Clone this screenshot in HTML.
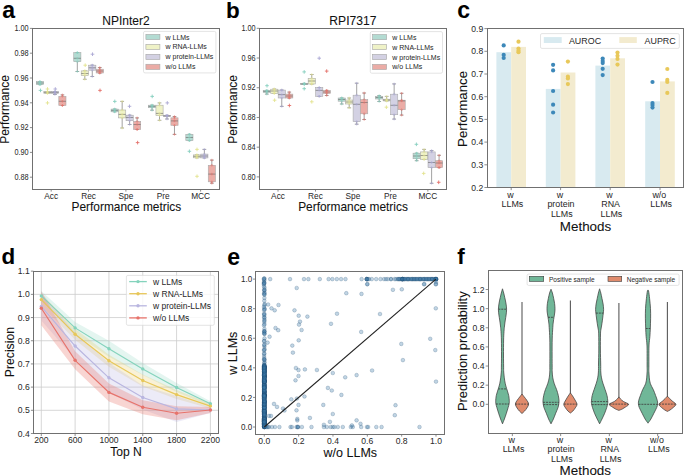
<!DOCTYPE html><html><head><meta charset="utf-8"><style>html,body{margin:0;padding:0;background:#fff;width:685px;height:476px;overflow:hidden}svg{display:block}text{font-family:"Liberation Sans",sans-serif;stroke:#111;stroke-width:0.15px;stroke-opacity:0.5}</style></head><body>
<svg width="685" height="476" viewBox="0 0 685 476">
<rect width="685" height="476" fill="#fff"/>
<text x="2.20" y="18.30" font-size="23" text-anchor="start" font-weight="bold" fill="#000">a</text>
<text x="226.00" y="18.40" font-size="22.4" text-anchor="start" font-weight="bold" fill="#000">b</text>
<text x="457.30" y="18.00" font-size="23" text-anchor="start" font-weight="bold" fill="#000">c</text>
<text x="1.40" y="263.70" font-size="22.4" text-anchor="start" font-weight="bold" fill="#000">d</text>
<text x="227.20" y="265.10" font-size="23" text-anchor="start" font-weight="bold" fill="#000">e</text>
<text x="457.30" y="264.30" font-size="22.4" text-anchor="start" font-weight="bold" fill="#000">f</text>
<text x="125.90" y="25.00" font-size="12.0" text-anchor="middle" font-weight="normal" fill="#111">NPInter2</text>
<line x1="39.96" y1="81.50" x2="39.96" y2="81.50" stroke="#8a8a8a" stroke-width="0.8"/>
<line x1="39.96" y1="84.60" x2="39.96" y2="84.60" stroke="#8a8a8a" stroke-width="0.8"/>
<line x1="38.06" y1="81.50" x2="41.86" y2="81.50" stroke="#8a8a8a" stroke-width="0.8"/>
<line x1="38.06" y1="84.60" x2="41.86" y2="84.60" stroke="#8a8a8a" stroke-width="0.8"/>
<rect x="36.37" y="81.50" width="7.18" height="3.10" fill="#b3dbd2" stroke="#ababab" stroke-width="0.6"/>
<line x1="36.37" y1="83.00" x2="43.55" y2="83.00" stroke="#767676" stroke-width="0.7"/>
<path d="M38.56 81.50H41.36M39.96 80.20V82.80" stroke="#86cfbf" stroke-width="0.75" opacity="0.75"/>
<path d="M38.56 81.50H41.36M39.96 80.20V82.80" stroke="#86cfbf" stroke-width="0.75" opacity="0.75"/>
<path d="M38.56 83.00H41.36M39.96 81.70V84.30" stroke="#86cfbf" stroke-width="0.75" opacity="0.75"/>
<path d="M38.56 84.60H41.36M39.96 83.30V85.90" stroke="#86cfbf" stroke-width="0.75" opacity="0.75"/>
<path d="M38.56 84.60H41.36M39.96 83.30V85.90" stroke="#86cfbf" stroke-width="0.75" opacity="0.75"/>
<path d="M38.70 90.40H42.30M40.50 88.60V92.20" stroke="#86cfbf" stroke-width="0.9"/>
<line x1="47.44" y1="91.50" x2="47.44" y2="91.50" stroke="#8a8a8a" stroke-width="0.8"/>
<line x1="47.44" y1="93.40" x2="47.44" y2="93.40" stroke="#8a8a8a" stroke-width="0.8"/>
<line x1="45.54" y1="91.50" x2="49.34" y2="91.50" stroke="#8a8a8a" stroke-width="0.8"/>
<line x1="45.54" y1="93.40" x2="49.34" y2="93.40" stroke="#8a8a8a" stroke-width="0.8"/>
<rect x="43.85" y="91.50" width="7.18" height="1.90" fill="#eff2c7" stroke="#ababab" stroke-width="0.6"/>
<line x1="43.85" y1="92.40" x2="51.03" y2="92.40" stroke="#767676" stroke-width="0.7"/>
<path d="M46.04 91.50H48.84M47.44 90.20V92.80" stroke="#e3e38f" stroke-width="0.75" opacity="0.75"/>
<path d="M46.04 91.50H48.84M47.44 90.20V92.80" stroke="#e3e38f" stroke-width="0.75" opacity="0.75"/>
<path d="M46.04 92.40H48.84M47.44 91.10V93.70" stroke="#e3e38f" stroke-width="0.75" opacity="0.75"/>
<path d="M46.04 93.40H48.84M47.44 92.10V94.70" stroke="#e3e38f" stroke-width="0.75" opacity="0.75"/>
<path d="M46.04 93.40H48.84M47.44 92.10V94.70" stroke="#e3e38f" stroke-width="0.75" opacity="0.75"/>
<path d="M45.70 89.00H49.30M47.50 87.20V90.80" stroke="#e3e38f" stroke-width="0.9"/>
<path d="M45.70 102.90H49.30M47.50 101.10V104.70" stroke="#e3e38f" stroke-width="0.9"/>
<line x1="54.92" y1="91.50" x2="54.92" y2="91.50" stroke="#8a8a8a" stroke-width="0.8"/>
<line x1="54.92" y1="93.40" x2="54.92" y2="94.50" stroke="#8a8a8a" stroke-width="0.8"/>
<line x1="53.02" y1="91.50" x2="56.82" y2="91.50" stroke="#8a8a8a" stroke-width="0.8"/>
<line x1="53.02" y1="94.50" x2="56.82" y2="94.50" stroke="#8a8a8a" stroke-width="0.8"/>
<rect x="51.33" y="91.50" width="7.18" height="1.90" fill="#d3d1e3" stroke="#ababab" stroke-width="0.6"/>
<line x1="51.33" y1="92.40" x2="58.51" y2="92.40" stroke="#767676" stroke-width="0.7"/>
<path d="M53.52 91.50H56.32M54.92 90.20V92.80" stroke="#aaa7d4" stroke-width="0.75" opacity="0.75"/>
<path d="M53.52 91.50H56.32M54.92 90.20V92.80" stroke="#aaa7d4" stroke-width="0.75" opacity="0.75"/>
<path d="M53.52 92.40H56.32M54.92 91.10V93.70" stroke="#aaa7d4" stroke-width="0.75" opacity="0.75"/>
<path d="M53.52 93.40H56.32M54.92 92.10V94.70" stroke="#aaa7d4" stroke-width="0.75" opacity="0.75"/>
<path d="M53.52 94.50H56.32M54.92 93.20V95.80" stroke="#aaa7d4" stroke-width="0.75" opacity="0.75"/>
<path d="M53.50 89.00H57.10M55.30 87.20V90.80" stroke="#aaa7d4" stroke-width="0.9"/>
<line x1="62.40" y1="94.90" x2="62.40" y2="96.30" stroke="#8a8a8a" stroke-width="0.8"/>
<line x1="62.40" y1="105.50" x2="62.40" y2="105.50" stroke="#8a8a8a" stroke-width="0.8"/>
<line x1="60.50" y1="94.90" x2="64.30" y2="94.90" stroke="#8a8a8a" stroke-width="0.8"/>
<line x1="60.50" y1="105.50" x2="64.30" y2="105.50" stroke="#8a8a8a" stroke-width="0.8"/>
<rect x="58.81" y="96.30" width="7.18" height="9.20" fill="#ebaca6" stroke="#ababab" stroke-width="0.6"/>
<line x1="58.81" y1="101.30" x2="65.99" y2="101.30" stroke="#767676" stroke-width="0.7"/>
<path d="M61.00 94.90H63.80M62.40 93.60V96.20" stroke="#e4716a" stroke-width="0.75" opacity="0.75"/>
<path d="M61.00 96.30H63.80M62.40 95.00V97.60" stroke="#e4716a" stroke-width="0.75" opacity="0.75"/>
<path d="M61.00 101.30H63.80M62.40 100.00V102.60" stroke="#e4716a" stroke-width="0.75" opacity="0.75"/>
<path d="M61.00 105.50H63.80M62.40 104.20V106.80" stroke="#e4716a" stroke-width="0.75" opacity="0.75"/>
<path d="M61.00 105.50H63.80M62.40 104.20V106.80" stroke="#e4716a" stroke-width="0.75" opacity="0.75"/>
<line x1="77.32" y1="52.60" x2="77.32" y2="52.60" stroke="#8a8a8a" stroke-width="0.8"/>
<line x1="77.32" y1="61.70" x2="77.32" y2="71.50" stroke="#8a8a8a" stroke-width="0.8"/>
<line x1="75.42" y1="52.60" x2="79.22" y2="52.60" stroke="#8a8a8a" stroke-width="0.8"/>
<line x1="75.42" y1="71.50" x2="79.22" y2="71.50" stroke="#8a8a8a" stroke-width="0.8"/>
<rect x="73.73" y="52.60" width="7.18" height="9.10" fill="#b3dbd2" stroke="#ababab" stroke-width="0.6"/>
<line x1="73.73" y1="58.30" x2="80.91" y2="58.30" stroke="#767676" stroke-width="0.7"/>
<path d="M75.92 52.60H78.72M77.32 51.30V53.90" stroke="#86cfbf" stroke-width="0.75" opacity="0.75"/>
<path d="M75.92 52.60H78.72M77.32 51.30V53.90" stroke="#86cfbf" stroke-width="0.75" opacity="0.75"/>
<path d="M75.92 58.30H78.72M77.32 57.00V59.60" stroke="#86cfbf" stroke-width="0.75" opacity="0.75"/>
<path d="M75.92 61.70H78.72M77.32 60.40V63.00" stroke="#86cfbf" stroke-width="0.75" opacity="0.75"/>
<path d="M75.92 71.50H78.72M77.32 70.20V72.80" stroke="#86cfbf" stroke-width="0.75" opacity="0.75"/>
<line x1="84.80" y1="70.90" x2="84.80" y2="70.90" stroke="#8a8a8a" stroke-width="0.8"/>
<line x1="84.80" y1="75.50" x2="84.80" y2="79.30" stroke="#8a8a8a" stroke-width="0.8"/>
<line x1="82.90" y1="70.90" x2="86.70" y2="70.90" stroke="#8a8a8a" stroke-width="0.8"/>
<line x1="82.90" y1="79.30" x2="86.70" y2="79.30" stroke="#8a8a8a" stroke-width="0.8"/>
<rect x="81.21" y="70.90" width="7.18" height="4.60" fill="#eff2c7" stroke="#ababab" stroke-width="0.6"/>
<line x1="81.21" y1="73.50" x2="88.39" y2="73.50" stroke="#767676" stroke-width="0.7"/>
<path d="M83.40 70.90H86.20M84.80 69.60V72.20" stroke="#e3e38f" stroke-width="0.75" opacity="0.75"/>
<path d="M83.40 70.90H86.20M84.80 69.60V72.20" stroke="#e3e38f" stroke-width="0.75" opacity="0.75"/>
<path d="M83.40 73.50H86.20M84.80 72.20V74.80" stroke="#e3e38f" stroke-width="0.75" opacity="0.75"/>
<path d="M83.40 75.50H86.20M84.80 74.20V76.80" stroke="#e3e38f" stroke-width="0.75" opacity="0.75"/>
<path d="M83.40 79.30H86.20M84.80 78.00V80.60" stroke="#e3e38f" stroke-width="0.75" opacity="0.75"/>
<path d="M83.40 65.20H87.00M85.20 63.40V67.00" stroke="#e3e38f" stroke-width="0.9"/>
<line x1="92.28" y1="65.20" x2="92.28" y2="65.20" stroke="#8a8a8a" stroke-width="0.8"/>
<line x1="92.28" y1="70.20" x2="92.28" y2="76.50" stroke="#8a8a8a" stroke-width="0.8"/>
<line x1="90.38" y1="65.20" x2="94.18" y2="65.20" stroke="#8a8a8a" stroke-width="0.8"/>
<line x1="90.38" y1="76.50" x2="94.18" y2="76.50" stroke="#8a8a8a" stroke-width="0.8"/>
<rect x="88.69" y="65.20" width="7.18" height="5.00" fill="#d3d1e3" stroke="#ababab" stroke-width="0.6"/>
<line x1="88.69" y1="67.80" x2="95.87" y2="67.80" stroke="#767676" stroke-width="0.7"/>
<path d="M90.88 65.20H93.68M92.28 63.90V66.50" stroke="#aaa7d4" stroke-width="0.75" opacity="0.75"/>
<path d="M90.88 65.20H93.68M92.28 63.90V66.50" stroke="#aaa7d4" stroke-width="0.75" opacity="0.75"/>
<path d="M90.88 67.80H93.68M92.28 66.50V69.10" stroke="#aaa7d4" stroke-width="0.75" opacity="0.75"/>
<path d="M90.88 70.20H93.68M92.28 68.90V71.50" stroke="#aaa7d4" stroke-width="0.75" opacity="0.75"/>
<path d="M90.88 76.50H93.68M92.28 75.20V77.80" stroke="#aaa7d4" stroke-width="0.75" opacity="0.75"/>
<path d="M90.70 54.20H94.30M92.50 52.40V56.00" stroke="#aaa7d4" stroke-width="0.9"/>
<line x1="99.76" y1="67.50" x2="99.76" y2="69.20" stroke="#8a8a8a" stroke-width="0.8"/>
<line x1="99.76" y1="73.00" x2="99.76" y2="73.00" stroke="#8a8a8a" stroke-width="0.8"/>
<line x1="97.86" y1="67.50" x2="101.66" y2="67.50" stroke="#8a8a8a" stroke-width="0.8"/>
<line x1="97.86" y1="73.00" x2="101.66" y2="73.00" stroke="#8a8a8a" stroke-width="0.8"/>
<rect x="96.17" y="69.20" width="7.18" height="3.80" fill="#ebaca6" stroke="#ababab" stroke-width="0.6"/>
<line x1="96.17" y1="71.00" x2="103.35" y2="71.00" stroke="#767676" stroke-width="0.7"/>
<path d="M98.36 67.50H101.16M99.76 66.20V68.80" stroke="#e4716a" stroke-width="0.75" opacity="0.75"/>
<path d="M98.36 69.20H101.16M99.76 67.90V70.50" stroke="#e4716a" stroke-width="0.75" opacity="0.75"/>
<path d="M98.36 71.00H101.16M99.76 69.70V72.30" stroke="#e4716a" stroke-width="0.75" opacity="0.75"/>
<path d="M98.36 73.00H101.16M99.76 71.70V74.30" stroke="#e4716a" stroke-width="0.75" opacity="0.75"/>
<path d="M98.36 73.00H101.16M99.76 71.70V74.30" stroke="#e4716a" stroke-width="0.75" opacity="0.75"/>
<path d="M98.20 90.40H101.80M100.00 88.60V92.20" stroke="#e4716a" stroke-width="0.9"/>
<line x1="114.68" y1="109.10" x2="114.68" y2="109.10" stroke="#8a8a8a" stroke-width="0.8"/>
<line x1="114.68" y1="111.80" x2="114.68" y2="111.80" stroke="#8a8a8a" stroke-width="0.8"/>
<line x1="112.78" y1="109.10" x2="116.58" y2="109.10" stroke="#8a8a8a" stroke-width="0.8"/>
<line x1="112.78" y1="111.80" x2="116.58" y2="111.80" stroke="#8a8a8a" stroke-width="0.8"/>
<rect x="111.09" y="109.10" width="7.18" height="2.70" fill="#b3dbd2" stroke="#ababab" stroke-width="0.6"/>
<line x1="111.09" y1="110.40" x2="118.27" y2="110.40" stroke="#767676" stroke-width="0.7"/>
<path d="M113.28 109.10H116.08M114.68 107.80V110.40" stroke="#86cfbf" stroke-width="0.75" opacity="0.75"/>
<path d="M113.28 109.10H116.08M114.68 107.80V110.40" stroke="#86cfbf" stroke-width="0.75" opacity="0.75"/>
<path d="M113.28 110.40H116.08M114.68 109.10V111.70" stroke="#86cfbf" stroke-width="0.75" opacity="0.75"/>
<path d="M113.28 111.80H116.08M114.68 110.50V113.10" stroke="#86cfbf" stroke-width="0.75" opacity="0.75"/>
<path d="M113.28 111.80H116.08M114.68 110.50V113.10" stroke="#86cfbf" stroke-width="0.75" opacity="0.75"/>
<path d="M113.00 101.40H116.60M114.80 99.60V103.20" stroke="#86cfbf" stroke-width="0.9"/>
<line x1="122.16" y1="101.40" x2="122.16" y2="110.00" stroke="#8a8a8a" stroke-width="0.8"/>
<line x1="122.16" y1="117.90" x2="122.16" y2="128.00" stroke="#8a8a8a" stroke-width="0.8"/>
<line x1="120.26" y1="101.40" x2="124.06" y2="101.40" stroke="#8a8a8a" stroke-width="0.8"/>
<line x1="120.26" y1="128.00" x2="124.06" y2="128.00" stroke="#8a8a8a" stroke-width="0.8"/>
<rect x="118.57" y="110.00" width="7.18" height="7.90" fill="#eff2c7" stroke="#ababab" stroke-width="0.6"/>
<line x1="118.57" y1="114.40" x2="125.75" y2="114.40" stroke="#767676" stroke-width="0.7"/>
<path d="M120.76 101.40H123.56M122.16 100.10V102.70" stroke="#e3e38f" stroke-width="0.75" opacity="0.75"/>
<path d="M120.76 110.00H123.56M122.16 108.70V111.30" stroke="#e3e38f" stroke-width="0.75" opacity="0.75"/>
<path d="M120.76 114.40H123.56M122.16 113.10V115.70" stroke="#e3e38f" stroke-width="0.75" opacity="0.75"/>
<path d="M120.76 117.90H123.56M122.16 116.60V119.20" stroke="#e3e38f" stroke-width="0.75" opacity="0.75"/>
<path d="M120.76 128.00H123.56M122.16 126.70V129.30" stroke="#e3e38f" stroke-width="0.75" opacity="0.75"/>
<line x1="129.64" y1="115.20" x2="129.64" y2="115.20" stroke="#8a8a8a" stroke-width="0.8"/>
<line x1="129.64" y1="120.70" x2="129.64" y2="124.50" stroke="#8a8a8a" stroke-width="0.8"/>
<line x1="127.74" y1="115.20" x2="131.54" y2="115.20" stroke="#8a8a8a" stroke-width="0.8"/>
<line x1="127.74" y1="124.50" x2="131.54" y2="124.50" stroke="#8a8a8a" stroke-width="0.8"/>
<rect x="126.05" y="115.20" width="7.18" height="5.50" fill="#d3d1e3" stroke="#ababab" stroke-width="0.6"/>
<line x1="126.05" y1="117.50" x2="133.23" y2="117.50" stroke="#767676" stroke-width="0.7"/>
<path d="M128.24 115.20H131.04M129.64 113.90V116.50" stroke="#aaa7d4" stroke-width="0.75" opacity="0.75"/>
<path d="M128.24 115.20H131.04M129.64 113.90V116.50" stroke="#aaa7d4" stroke-width="0.75" opacity="0.75"/>
<path d="M128.24 117.50H131.04M129.64 116.20V118.80" stroke="#aaa7d4" stroke-width="0.75" opacity="0.75"/>
<path d="M128.24 120.70H131.04M129.64 119.40V122.00" stroke="#aaa7d4" stroke-width="0.75" opacity="0.75"/>
<path d="M128.24 124.50H131.04M129.64 123.20V125.80" stroke="#aaa7d4" stroke-width="0.75" opacity="0.75"/>
<path d="M127.70 106.30H131.30M129.50 104.50V108.10" stroke="#aaa7d4" stroke-width="0.9"/>
<line x1="137.12" y1="117.90" x2="137.12" y2="121.40" stroke="#8a8a8a" stroke-width="0.8"/>
<line x1="137.12" y1="129.50" x2="137.12" y2="129.50" stroke="#8a8a8a" stroke-width="0.8"/>
<line x1="135.22" y1="117.90" x2="139.02" y2="117.90" stroke="#8a8a8a" stroke-width="0.8"/>
<line x1="135.22" y1="129.50" x2="139.02" y2="129.50" stroke="#8a8a8a" stroke-width="0.8"/>
<rect x="133.53" y="121.40" width="7.18" height="8.10" fill="#ebaca6" stroke="#ababab" stroke-width="0.6"/>
<line x1="133.53" y1="124.50" x2="140.71" y2="124.50" stroke="#767676" stroke-width="0.7"/>
<path d="M135.72 117.90H138.52M137.12 116.60V119.20" stroke="#e4716a" stroke-width="0.75" opacity="0.75"/>
<path d="M135.72 121.40H138.52M137.12 120.10V122.70" stroke="#e4716a" stroke-width="0.75" opacity="0.75"/>
<path d="M135.72 124.50H138.52M137.12 123.20V125.80" stroke="#e4716a" stroke-width="0.75" opacity="0.75"/>
<path d="M135.72 129.50H138.52M137.12 128.20V130.80" stroke="#e4716a" stroke-width="0.75" opacity="0.75"/>
<path d="M135.72 129.50H138.52M137.12 128.20V130.80" stroke="#e4716a" stroke-width="0.75" opacity="0.75"/>
<path d="M135.80 142.60H139.40M137.60 140.80V144.40" stroke="#e4716a" stroke-width="0.9"/>
<line x1="152.04" y1="105.20" x2="152.04" y2="105.20" stroke="#8a8a8a" stroke-width="0.8"/>
<line x1="152.04" y1="107.70" x2="152.04" y2="110.20" stroke="#8a8a8a" stroke-width="0.8"/>
<line x1="150.14" y1="105.20" x2="153.94" y2="105.20" stroke="#8a8a8a" stroke-width="0.8"/>
<line x1="150.14" y1="110.20" x2="153.94" y2="110.20" stroke="#8a8a8a" stroke-width="0.8"/>
<rect x="148.45" y="105.20" width="7.18" height="2.50" fill="#b3dbd2" stroke="#ababab" stroke-width="0.6"/>
<line x1="148.45" y1="106.40" x2="155.63" y2="106.40" stroke="#767676" stroke-width="0.7"/>
<path d="M150.64 105.20H153.44M152.04 103.90V106.50" stroke="#86cfbf" stroke-width="0.75" opacity="0.75"/>
<path d="M150.64 105.20H153.44M152.04 103.90V106.50" stroke="#86cfbf" stroke-width="0.75" opacity="0.75"/>
<path d="M150.64 106.40H153.44M152.04 105.10V107.70" stroke="#86cfbf" stroke-width="0.75" opacity="0.75"/>
<path d="M150.64 107.70H153.44M152.04 106.40V109.00" stroke="#86cfbf" stroke-width="0.75" opacity="0.75"/>
<path d="M150.64 110.20H153.44M152.04 108.90V111.50" stroke="#86cfbf" stroke-width="0.75" opacity="0.75"/>
<path d="M150.40 96.40H154.00M152.20 94.60V98.20" stroke="#86cfbf" stroke-width="0.9"/>
<line x1="159.52" y1="102.90" x2="159.52" y2="105.20" stroke="#8a8a8a" stroke-width="0.8"/>
<line x1="159.52" y1="115.50" x2="159.52" y2="120.30" stroke="#8a8a8a" stroke-width="0.8"/>
<line x1="157.62" y1="102.90" x2="161.42" y2="102.90" stroke="#8a8a8a" stroke-width="0.8"/>
<line x1="157.62" y1="120.30" x2="161.42" y2="120.30" stroke="#8a8a8a" stroke-width="0.8"/>
<rect x="155.93" y="105.20" width="7.18" height="10.30" fill="#eff2c7" stroke="#ababab" stroke-width="0.6"/>
<line x1="155.93" y1="113.40" x2="163.11" y2="113.40" stroke="#767676" stroke-width="0.7"/>
<path d="M158.12 102.90H160.92M159.52 101.60V104.20" stroke="#e3e38f" stroke-width="0.75" opacity="0.75"/>
<path d="M158.12 105.20H160.92M159.52 103.90V106.50" stroke="#e3e38f" stroke-width="0.75" opacity="0.75"/>
<path d="M158.12 113.40H160.92M159.52 112.10V114.70" stroke="#e3e38f" stroke-width="0.75" opacity="0.75"/>
<path d="M158.12 115.50H160.92M159.52 114.20V116.80" stroke="#e3e38f" stroke-width="0.75" opacity="0.75"/>
<path d="M158.12 120.30H160.92M159.52 119.00V121.60" stroke="#e3e38f" stroke-width="0.75" opacity="0.75"/>
<line x1="167.00" y1="115.30" x2="167.00" y2="115.30" stroke="#8a8a8a" stroke-width="0.8"/>
<line x1="167.00" y1="116.50" x2="167.00" y2="119.00" stroke="#8a8a8a" stroke-width="0.8"/>
<line x1="165.10" y1="115.30" x2="168.90" y2="115.30" stroke="#8a8a8a" stroke-width="0.8"/>
<line x1="165.10" y1="119.00" x2="168.90" y2="119.00" stroke="#8a8a8a" stroke-width="0.8"/>
<rect x="163.41" y="115.30" width="7.18" height="1.20" fill="#d3d1e3" stroke="#ababab" stroke-width="0.6"/>
<line x1="163.41" y1="115.90" x2="170.59" y2="115.90" stroke="#767676" stroke-width="0.7"/>
<path d="M165.60 115.30H168.40M167.00 114.00V116.60" stroke="#aaa7d4" stroke-width="0.75" opacity="0.75"/>
<path d="M165.60 115.30H168.40M167.00 114.00V116.60" stroke="#aaa7d4" stroke-width="0.75" opacity="0.75"/>
<path d="M165.60 115.90H168.40M167.00 114.60V117.20" stroke="#aaa7d4" stroke-width="0.75" opacity="0.75"/>
<path d="M165.60 116.50H168.40M167.00 115.20V117.80" stroke="#aaa7d4" stroke-width="0.75" opacity="0.75"/>
<path d="M165.60 119.00H168.40M167.00 117.70V120.30" stroke="#aaa7d4" stroke-width="0.75" opacity="0.75"/>
<path d="M165.50 102.90H169.10M167.30 101.10V104.70" stroke="#aaa7d4" stroke-width="0.9"/>
<line x1="174.48" y1="116.50" x2="174.48" y2="117.80" stroke="#8a8a8a" stroke-width="0.8"/>
<line x1="174.48" y1="125.30" x2="174.48" y2="134.40" stroke="#8a8a8a" stroke-width="0.8"/>
<line x1="172.58" y1="116.50" x2="176.38" y2="116.50" stroke="#8a8a8a" stroke-width="0.8"/>
<line x1="172.58" y1="134.40" x2="176.38" y2="134.40" stroke="#8a8a8a" stroke-width="0.8"/>
<rect x="170.89" y="117.80" width="7.18" height="7.50" fill="#ebaca6" stroke="#ababab" stroke-width="0.6"/>
<line x1="170.89" y1="120.90" x2="178.07" y2="120.90" stroke="#767676" stroke-width="0.7"/>
<path d="M173.08 116.50H175.88M174.48 115.20V117.80" stroke="#e4716a" stroke-width="0.75" opacity="0.75"/>
<path d="M173.08 117.80H175.88M174.48 116.50V119.10" stroke="#e4716a" stroke-width="0.75" opacity="0.75"/>
<path d="M173.08 120.90H175.88M174.48 119.60V122.20" stroke="#e4716a" stroke-width="0.75" opacity="0.75"/>
<path d="M173.08 125.30H175.88M174.48 124.00V126.60" stroke="#e4716a" stroke-width="0.75" opacity="0.75"/>
<path d="M173.08 134.40H175.88M174.48 133.10V135.70" stroke="#e4716a" stroke-width="0.75" opacity="0.75"/>
<line x1="189.40" y1="134.30" x2="189.40" y2="134.30" stroke="#8a8a8a" stroke-width="0.8"/>
<line x1="189.40" y1="140.60" x2="189.40" y2="140.60" stroke="#8a8a8a" stroke-width="0.8"/>
<line x1="187.50" y1="134.30" x2="191.30" y2="134.30" stroke="#8a8a8a" stroke-width="0.8"/>
<line x1="187.50" y1="140.60" x2="191.30" y2="140.60" stroke="#8a8a8a" stroke-width="0.8"/>
<rect x="185.81" y="134.30" width="7.18" height="6.30" fill="#b3dbd2" stroke="#ababab" stroke-width="0.6"/>
<line x1="185.81" y1="137.50" x2="192.99" y2="137.50" stroke="#767676" stroke-width="0.7"/>
<path d="M188.00 134.30H190.80M189.40 133.00V135.60" stroke="#86cfbf" stroke-width="0.75" opacity="0.75"/>
<path d="M188.00 134.30H190.80M189.40 133.00V135.60" stroke="#86cfbf" stroke-width="0.75" opacity="0.75"/>
<path d="M188.00 137.50H190.80M189.40 136.20V138.80" stroke="#86cfbf" stroke-width="0.75" opacity="0.75"/>
<path d="M188.00 140.60H190.80M189.40 139.30V141.90" stroke="#86cfbf" stroke-width="0.75" opacity="0.75"/>
<path d="M188.00 140.60H190.80M189.40 139.30V141.90" stroke="#86cfbf" stroke-width="0.75" opacity="0.75"/>
<path d="M187.60 151.30H191.20M189.40 149.50V153.10" stroke="#86cfbf" stroke-width="0.9"/>
<line x1="196.88" y1="154.90" x2="196.88" y2="154.90" stroke="#8a8a8a" stroke-width="0.8"/>
<line x1="196.88" y1="157.80" x2="196.88" y2="157.80" stroke="#8a8a8a" stroke-width="0.8"/>
<line x1="194.98" y1="154.90" x2="198.78" y2="154.90" stroke="#8a8a8a" stroke-width="0.8"/>
<line x1="194.98" y1="157.80" x2="198.78" y2="157.80" stroke="#8a8a8a" stroke-width="0.8"/>
<rect x="193.29" y="154.90" width="7.18" height="2.90" fill="#eff2c7" stroke="#ababab" stroke-width="0.6"/>
<line x1="193.29" y1="156.30" x2="200.47" y2="156.30" stroke="#767676" stroke-width="0.7"/>
<path d="M195.48 154.90H198.28M196.88 153.60V156.20" stroke="#e3e38f" stroke-width="0.75" opacity="0.75"/>
<path d="M195.48 154.90H198.28M196.88 153.60V156.20" stroke="#e3e38f" stroke-width="0.75" opacity="0.75"/>
<path d="M195.48 156.30H198.28M196.88 155.00V157.60" stroke="#e3e38f" stroke-width="0.75" opacity="0.75"/>
<path d="M195.48 157.80H198.28M196.88 156.50V159.10" stroke="#e3e38f" stroke-width="0.75" opacity="0.75"/>
<path d="M195.48 157.80H198.28M196.88 156.50V159.10" stroke="#e3e38f" stroke-width="0.75" opacity="0.75"/>
<path d="M195.20 149.40H198.80M197.00 147.60V151.20" stroke="#e3e38f" stroke-width="0.9"/>
<path d="M195.20 176.30H198.80M197.00 174.50V178.10" stroke="#e3e38f" stroke-width="0.9"/>
<line x1="204.36" y1="149.40" x2="204.36" y2="154.10" stroke="#8a8a8a" stroke-width="0.8"/>
<line x1="204.36" y1="157.90" x2="204.36" y2="157.90" stroke="#8a8a8a" stroke-width="0.8"/>
<line x1="202.46" y1="149.40" x2="206.26" y2="149.40" stroke="#8a8a8a" stroke-width="0.8"/>
<line x1="202.46" y1="157.90" x2="206.26" y2="157.90" stroke="#8a8a8a" stroke-width="0.8"/>
<rect x="200.77" y="154.10" width="7.18" height="3.80" fill="#d3d1e3" stroke="#ababab" stroke-width="0.6"/>
<line x1="200.77" y1="156.00" x2="207.95" y2="156.00" stroke="#767676" stroke-width="0.7"/>
<path d="M202.96 149.40H205.76M204.36 148.10V150.70" stroke="#aaa7d4" stroke-width="0.75" opacity="0.75"/>
<path d="M202.96 154.10H205.76M204.36 152.80V155.40" stroke="#aaa7d4" stroke-width="0.75" opacity="0.75"/>
<path d="M202.96 156.00H205.76M204.36 154.70V157.30" stroke="#aaa7d4" stroke-width="0.75" opacity="0.75"/>
<path d="M202.96 157.90H205.76M204.36 156.60V159.20" stroke="#aaa7d4" stroke-width="0.75" opacity="0.75"/>
<path d="M202.96 157.90H205.76M204.36 156.60V159.20" stroke="#aaa7d4" stroke-width="0.75" opacity="0.75"/>
<line x1="211.84" y1="160.10" x2="211.84" y2="165.30" stroke="#8a8a8a" stroke-width="0.8"/>
<line x1="211.84" y1="181.80" x2="211.84" y2="183.20" stroke="#8a8a8a" stroke-width="0.8"/>
<line x1="209.94" y1="160.10" x2="213.74" y2="160.10" stroke="#8a8a8a" stroke-width="0.8"/>
<line x1="209.94" y1="183.20" x2="213.74" y2="183.20" stroke="#8a8a8a" stroke-width="0.8"/>
<rect x="208.25" y="165.30" width="7.18" height="16.50" fill="#ebaca6" stroke="#ababab" stroke-width="0.6"/>
<line x1="208.25" y1="174.10" x2="215.43" y2="174.10" stroke="#767676" stroke-width="0.7"/>
<path d="M210.44 160.10H213.24M211.84 158.80V161.40" stroke="#e4716a" stroke-width="0.75" opacity="0.75"/>
<path d="M210.44 165.30H213.24M211.84 164.00V166.60" stroke="#e4716a" stroke-width="0.75" opacity="0.75"/>
<path d="M210.44 174.10H213.24M211.84 172.80V175.40" stroke="#e4716a" stroke-width="0.75" opacity="0.75"/>
<path d="M210.44 181.80H213.24M211.84 180.50V183.10" stroke="#e4716a" stroke-width="0.75" opacity="0.75"/>
<path d="M210.44 183.20H213.24M211.84 181.90V184.50" stroke="#e4716a" stroke-width="0.75" opacity="0.75"/>
<rect x="32.50" y="28.50" width="187.00" height="161.00" fill="none" stroke="#707070" stroke-width="1.0"/>
<line x1="29.90" y1="28.40" x2="32.50" y2="28.40" stroke="#707070" stroke-width="0.8"/>
<text x="28.60" y="31.20" font-size="8.3" text-anchor="end" font-weight="normal" fill="#2b2b2b" transform="translate(28.60 0) scale(0.88 1) translate(-28.60 0)" style="stroke-width:0.06px">1.00</text>
<line x1="29.90" y1="53.20" x2="32.50" y2="53.20" stroke="#707070" stroke-width="0.8"/>
<text x="28.60" y="56.00" font-size="8.3" text-anchor="end" font-weight="normal" fill="#2b2b2b" transform="translate(28.60 0) scale(0.88 1) translate(-28.60 0)" style="stroke-width:0.06px">0.98</text>
<line x1="29.90" y1="78.00" x2="32.50" y2="78.00" stroke="#707070" stroke-width="0.8"/>
<text x="28.60" y="80.80" font-size="8.3" text-anchor="end" font-weight="normal" fill="#2b2b2b" transform="translate(28.60 0) scale(0.88 1) translate(-28.60 0)" style="stroke-width:0.06px">0.96</text>
<line x1="29.90" y1="102.80" x2="32.50" y2="102.80" stroke="#707070" stroke-width="0.8"/>
<text x="28.60" y="105.60" font-size="8.3" text-anchor="end" font-weight="normal" fill="#2b2b2b" transform="translate(28.60 0) scale(0.88 1) translate(-28.60 0)" style="stroke-width:0.06px">0.94</text>
<line x1="29.90" y1="127.60" x2="32.50" y2="127.60" stroke="#707070" stroke-width="0.8"/>
<text x="28.60" y="130.40" font-size="8.3" text-anchor="end" font-weight="normal" fill="#2b2b2b" transform="translate(28.60 0) scale(0.88 1) translate(-28.60 0)" style="stroke-width:0.06px">0.92</text>
<line x1="29.90" y1="152.40" x2="32.50" y2="152.40" stroke="#707070" stroke-width="0.8"/>
<text x="28.60" y="155.20" font-size="8.3" text-anchor="end" font-weight="normal" fill="#2b2b2b" transform="translate(28.60 0) scale(0.88 1) translate(-28.60 0)" style="stroke-width:0.06px">0.90</text>
<line x1="29.90" y1="177.20" x2="32.50" y2="177.20" stroke="#707070" stroke-width="0.8"/>
<text x="28.60" y="180.00" font-size="8.3" text-anchor="end" font-weight="normal" fill="#2b2b2b" transform="translate(28.60 0) scale(0.88 1) translate(-28.60 0)" style="stroke-width:0.06px">0.88</text>
<line x1="51.18" y1="189.00" x2="51.18" y2="191.60" stroke="#707070" stroke-width="0.8"/>
<text x="51.18" y="198.90" font-size="8.3" text-anchor="middle" font-weight="normal" fill="#2b2b2b" style="stroke-width:0.06px">Acc</text>
<line x1="88.54" y1="189.00" x2="88.54" y2="191.60" stroke="#707070" stroke-width="0.8"/>
<text x="88.54" y="198.90" font-size="8.3" text-anchor="middle" font-weight="normal" fill="#2b2b2b" style="stroke-width:0.06px">Rec</text>
<line x1="125.90" y1="189.00" x2="125.90" y2="191.60" stroke="#707070" stroke-width="0.8"/>
<text x="125.90" y="198.90" font-size="8.3" text-anchor="middle" font-weight="normal" fill="#2b2b2b" style="stroke-width:0.06px">Spe</text>
<line x1="163.26" y1="189.00" x2="163.26" y2="191.60" stroke="#707070" stroke-width="0.8"/>
<text x="163.26" y="198.90" font-size="8.3" text-anchor="middle" font-weight="normal" fill="#2b2b2b" style="stroke-width:0.06px">Pre</text>
<line x1="200.62" y1="189.00" x2="200.62" y2="191.60" stroke="#707070" stroke-width="0.8"/>
<text x="200.62" y="198.90" font-size="8.3" text-anchor="middle" font-weight="normal" fill="#2b2b2b" style="stroke-width:0.06px">MCC</text>
<text x="126.40" y="210.60" font-size="11.9" text-anchor="middle" font-weight="normal" fill="#111">Performance metrics</text>
<text x="9.50" y="109.40" font-size="12.0" text-anchor="middle" font-weight="normal" fill="#111" transform="rotate(-90 9.50 109.40)">Performance</text>
<rect x="143.50" y="31.40" width="72.40" height="41.50" rx="1.5" fill="#fff" fill-opacity="0.8" stroke="#d8d8d8" stroke-width="0.7"/>
<rect x="145.90" y="34.40" width="14" height="5.2" fill="#b3dbd2" stroke="#a6a6a6" stroke-width="0.6"/>
<text x="165.50" y="39.50" font-size="7.0" text-anchor="start" font-weight="normal" fill="#2b2b2b" style="stroke-width:0.06px">w LLMs</text>
<rect x="145.90" y="44.35" width="14" height="5.2" fill="#eff2c7" stroke="#a6a6a6" stroke-width="0.6"/>
<text x="165.50" y="49.45" font-size="7.0" text-anchor="start" font-weight="normal" fill="#2b2b2b" style="stroke-width:0.06px">w RNA-LLMs</text>
<rect x="145.90" y="54.30" width="14" height="5.2" fill="#d3d1e3" stroke="#a6a6a6" stroke-width="0.6"/>
<text x="165.50" y="59.40" font-size="7.0" text-anchor="start" font-weight="normal" fill="#2b2b2b" style="stroke-width:0.06px">w protein-LLMs</text>
<rect x="145.90" y="64.25" width="14" height="5.2" fill="#ebaca6" stroke="#a6a6a6" stroke-width="0.6"/>
<text x="165.50" y="69.35" font-size="7.0" text-anchor="start" font-weight="normal" fill="#2b2b2b" style="stroke-width:0.06px">w/o LLMs</text>
<text x="352.90" y="25.00" font-size="12.1" text-anchor="middle" font-weight="normal" fill="#111">RPI7317</text>
<line x1="266.81" y1="90.40" x2="266.81" y2="90.40" stroke="#8a8a8a" stroke-width="0.8"/>
<line x1="266.81" y1="92.40" x2="266.81" y2="94.10" stroke="#8a8a8a" stroke-width="0.8"/>
<line x1="264.91" y1="90.40" x2="268.71" y2="90.40" stroke="#8a8a8a" stroke-width="0.8"/>
<line x1="264.91" y1="94.10" x2="268.71" y2="94.10" stroke="#8a8a8a" stroke-width="0.8"/>
<rect x="263.22" y="90.40" width="7.18" height="2.00" fill="#b3dbd2" stroke="#ababab" stroke-width="0.6"/>
<line x1="263.22" y1="91.40" x2="270.40" y2="91.40" stroke="#767676" stroke-width="0.7"/>
<path d="M265.41 90.40H268.21M266.81 89.10V91.70" stroke="#86cfbf" stroke-width="0.75" opacity="0.75"/>
<path d="M265.41 90.40H268.21M266.81 89.10V91.70" stroke="#86cfbf" stroke-width="0.75" opacity="0.75"/>
<path d="M265.41 91.40H268.21M266.81 90.10V92.70" stroke="#86cfbf" stroke-width="0.75" opacity="0.75"/>
<path d="M265.41 92.40H268.21M266.81 91.10V93.70" stroke="#86cfbf" stroke-width="0.75" opacity="0.75"/>
<path d="M265.41 94.10H268.21M266.81 92.80V95.40" stroke="#86cfbf" stroke-width="0.75" opacity="0.75"/>
<path d="M265.20 85.70H268.80M267.00 83.90V87.50" stroke="#86cfbf" stroke-width="0.9"/>
<line x1="274.29" y1="89.00" x2="274.29" y2="89.20" stroke="#8a8a8a" stroke-width="0.8"/>
<line x1="274.29" y1="93.40" x2="274.29" y2="93.40" stroke="#8a8a8a" stroke-width="0.8"/>
<line x1="272.39" y1="89.00" x2="276.19" y2="89.00" stroke="#8a8a8a" stroke-width="0.8"/>
<line x1="272.39" y1="93.40" x2="276.19" y2="93.40" stroke="#8a8a8a" stroke-width="0.8"/>
<rect x="270.70" y="89.20" width="7.18" height="4.20" fill="#eff2c7" stroke="#ababab" stroke-width="0.6"/>
<line x1="270.70" y1="91.00" x2="277.88" y2="91.00" stroke="#767676" stroke-width="0.7"/>
<path d="M272.89 89.00H275.69M274.29 87.70V90.30" stroke="#e3e38f" stroke-width="0.75" opacity="0.75"/>
<path d="M272.89 89.20H275.69M274.29 87.90V90.50" stroke="#e3e38f" stroke-width="0.75" opacity="0.75"/>
<path d="M272.89 91.00H275.69M274.29 89.70V92.30" stroke="#e3e38f" stroke-width="0.75" opacity="0.75"/>
<path d="M272.89 93.40H275.69M274.29 92.10V94.70" stroke="#e3e38f" stroke-width="0.75" opacity="0.75"/>
<path d="M272.89 93.40H275.69M274.29 92.10V94.70" stroke="#e3e38f" stroke-width="0.75" opacity="0.75"/>
<path d="M272.80 100.20H276.40M274.60 98.40V102.00" stroke="#e3e38f" stroke-width="0.9"/>
<line x1="281.77" y1="90.10" x2="281.77" y2="90.10" stroke="#8a8a8a" stroke-width="0.8"/>
<line x1="281.77" y1="98.00" x2="281.77" y2="106.40" stroke="#8a8a8a" stroke-width="0.8"/>
<line x1="279.87" y1="90.10" x2="283.67" y2="90.10" stroke="#8a8a8a" stroke-width="0.8"/>
<line x1="279.87" y1="106.40" x2="283.67" y2="106.40" stroke="#8a8a8a" stroke-width="0.8"/>
<rect x="278.18" y="90.10" width="7.18" height="7.90" fill="#d3d1e3" stroke="#ababab" stroke-width="0.6"/>
<line x1="278.18" y1="94.60" x2="285.36" y2="94.60" stroke="#767676" stroke-width="0.7"/>
<path d="M280.37 90.10H283.17M281.77 88.80V91.40" stroke="#aaa7d4" stroke-width="0.75" opacity="0.75"/>
<path d="M280.37 90.10H283.17M281.77 88.80V91.40" stroke="#aaa7d4" stroke-width="0.75" opacity="0.75"/>
<path d="M280.37 94.60H283.17M281.77 93.30V95.90" stroke="#aaa7d4" stroke-width="0.75" opacity="0.75"/>
<path d="M280.37 98.00H283.17M281.77 96.70V99.30" stroke="#aaa7d4" stroke-width="0.75" opacity="0.75"/>
<path d="M280.37 106.40H283.17M281.77 105.10V107.70" stroke="#aaa7d4" stroke-width="0.75" opacity="0.75"/>
<line x1="289.25" y1="92.10" x2="289.25" y2="94.10" stroke="#8a8a8a" stroke-width="0.8"/>
<line x1="289.25" y1="98.00" x2="289.25" y2="98.00" stroke="#8a8a8a" stroke-width="0.8"/>
<line x1="287.35" y1="92.10" x2="291.15" y2="92.10" stroke="#8a8a8a" stroke-width="0.8"/>
<line x1="287.35" y1="98.00" x2="291.15" y2="98.00" stroke="#8a8a8a" stroke-width="0.8"/>
<rect x="285.66" y="94.10" width="7.18" height="3.90" fill="#ebaca6" stroke="#ababab" stroke-width="0.6"/>
<line x1="285.66" y1="96.00" x2="292.84" y2="96.00" stroke="#767676" stroke-width="0.7"/>
<path d="M287.85 92.10H290.65M289.25 90.80V93.40" stroke="#e4716a" stroke-width="0.75" opacity="0.75"/>
<path d="M287.85 94.10H290.65M289.25 92.80V95.40" stroke="#e4716a" stroke-width="0.75" opacity="0.75"/>
<path d="M287.85 96.00H290.65M289.25 94.70V97.30" stroke="#e4716a" stroke-width="0.75" opacity="0.75"/>
<path d="M287.85 98.00H290.65M289.25 96.70V99.30" stroke="#e4716a" stroke-width="0.75" opacity="0.75"/>
<path d="M287.85 98.00H290.65M289.25 96.70V99.30" stroke="#e4716a" stroke-width="0.75" opacity="0.75"/>
<path d="M287.60 105.50H291.20M289.40 103.70V107.30" stroke="#e4716a" stroke-width="0.9"/>
<line x1="304.27" y1="83.40" x2="304.27" y2="83.40" stroke="#8a8a8a" stroke-width="0.8"/>
<line x1="304.27" y1="84.50" x2="304.27" y2="84.50" stroke="#8a8a8a" stroke-width="0.8"/>
<line x1="302.37" y1="83.40" x2="306.17" y2="83.40" stroke="#8a8a8a" stroke-width="0.8"/>
<line x1="302.37" y1="84.50" x2="306.17" y2="84.50" stroke="#8a8a8a" stroke-width="0.8"/>
<rect x="300.68" y="83.40" width="7.18" height="1.10" fill="#b3dbd2" stroke="#ababab" stroke-width="0.6"/>
<line x1="300.68" y1="84.00" x2="307.86" y2="84.00" stroke="#767676" stroke-width="0.7"/>
<path d="M302.87 83.40H305.67M304.27 82.10V84.70" stroke="#86cfbf" stroke-width="0.75" opacity="0.75"/>
<path d="M302.87 83.40H305.67M304.27 82.10V84.70" stroke="#86cfbf" stroke-width="0.75" opacity="0.75"/>
<path d="M302.87 84.00H305.67M304.27 82.70V85.30" stroke="#86cfbf" stroke-width="0.75" opacity="0.75"/>
<path d="M302.87 84.50H305.67M304.27 83.20V85.80" stroke="#86cfbf" stroke-width="0.75" opacity="0.75"/>
<path d="M302.87 84.50H305.67M304.27 83.20V85.80" stroke="#86cfbf" stroke-width="0.75" opacity="0.75"/>
<path d="M302.40 71.90H306.00M304.20 70.10V73.70" stroke="#86cfbf" stroke-width="0.9"/>
<path d="M302.40 88.70H306.00M304.20 86.90V90.50" stroke="#86cfbf" stroke-width="0.9"/>
<line x1="311.75" y1="74.50" x2="311.75" y2="78.30" stroke="#8a8a8a" stroke-width="0.8"/>
<line x1="311.75" y1="84.00" x2="311.75" y2="84.00" stroke="#8a8a8a" stroke-width="0.8"/>
<line x1="309.85" y1="74.50" x2="313.65" y2="74.50" stroke="#8a8a8a" stroke-width="0.8"/>
<line x1="309.85" y1="84.00" x2="313.65" y2="84.00" stroke="#8a8a8a" stroke-width="0.8"/>
<rect x="308.16" y="78.30" width="7.18" height="5.70" fill="#eff2c7" stroke="#ababab" stroke-width="0.6"/>
<line x1="308.16" y1="81.00" x2="315.34" y2="81.00" stroke="#767676" stroke-width="0.7"/>
<path d="M310.35 74.50H313.15M311.75 73.20V75.80" stroke="#e3e38f" stroke-width="0.75" opacity="0.75"/>
<path d="M310.35 78.30H313.15M311.75 77.00V79.60" stroke="#e3e38f" stroke-width="0.75" opacity="0.75"/>
<path d="M310.35 81.00H313.15M311.75 79.70V82.30" stroke="#e3e38f" stroke-width="0.75" opacity="0.75"/>
<path d="M310.35 84.00H313.15M311.75 82.70V85.30" stroke="#e3e38f" stroke-width="0.75" opacity="0.75"/>
<path d="M310.35 84.00H313.15M311.75 82.70V85.30" stroke="#e3e38f" stroke-width="0.75" opacity="0.75"/>
<path d="M310.00 101.80H313.60M311.80 100.00V103.60" stroke="#e3e38f" stroke-width="0.9"/>
<line x1="319.23" y1="87.60" x2="319.23" y2="87.60" stroke="#8a8a8a" stroke-width="0.8"/>
<line x1="319.23" y1="96.30" x2="319.23" y2="96.30" stroke="#8a8a8a" stroke-width="0.8"/>
<line x1="317.33" y1="87.60" x2="321.13" y2="87.60" stroke="#8a8a8a" stroke-width="0.8"/>
<line x1="317.33" y1="96.30" x2="321.13" y2="96.30" stroke="#8a8a8a" stroke-width="0.8"/>
<rect x="315.64" y="87.60" width="7.18" height="8.70" fill="#d3d1e3" stroke="#ababab" stroke-width="0.6"/>
<line x1="315.64" y1="90.40" x2="322.82" y2="90.40" stroke="#767676" stroke-width="0.7"/>
<path d="M317.83 87.60H320.63M319.23 86.30V88.90" stroke="#aaa7d4" stroke-width="0.75" opacity="0.75"/>
<path d="M317.83 87.60H320.63M319.23 86.30V88.90" stroke="#aaa7d4" stroke-width="0.75" opacity="0.75"/>
<path d="M317.83 90.40H320.63M319.23 89.10V91.70" stroke="#aaa7d4" stroke-width="0.75" opacity="0.75"/>
<path d="M317.83 96.30H320.63M319.23 95.00V97.60" stroke="#aaa7d4" stroke-width="0.75" opacity="0.75"/>
<path d="M317.83 96.30H320.63M319.23 95.00V97.60" stroke="#aaa7d4" stroke-width="0.75" opacity="0.75"/>
<path d="M317.40 58.20H321.00M319.20 56.40V60.00" stroke="#aaa7d4" stroke-width="0.9"/>
<line x1="326.71" y1="90.40" x2="326.71" y2="90.40" stroke="#8a8a8a" stroke-width="0.8"/>
<line x1="326.71" y1="93.40" x2="326.71" y2="95.50" stroke="#8a8a8a" stroke-width="0.8"/>
<line x1="324.81" y1="90.40" x2="328.61" y2="90.40" stroke="#8a8a8a" stroke-width="0.8"/>
<line x1="324.81" y1="95.50" x2="328.61" y2="95.50" stroke="#8a8a8a" stroke-width="0.8"/>
<rect x="323.12" y="90.40" width="7.18" height="3.00" fill="#ebaca6" stroke="#ababab" stroke-width="0.6"/>
<line x1="323.12" y1="92.00" x2="330.30" y2="92.00" stroke="#767676" stroke-width="0.7"/>
<path d="M325.31 90.40H328.11M326.71 89.10V91.70" stroke="#e4716a" stroke-width="0.75" opacity="0.75"/>
<path d="M325.31 90.40H328.11M326.71 89.10V91.70" stroke="#e4716a" stroke-width="0.75" opacity="0.75"/>
<path d="M325.31 92.00H328.11M326.71 90.70V93.30" stroke="#e4716a" stroke-width="0.75" opacity="0.75"/>
<path d="M325.31 93.40H328.11M326.71 92.10V94.70" stroke="#e4716a" stroke-width="0.75" opacity="0.75"/>
<path d="M325.31 95.50H328.11M326.71 94.20V96.80" stroke="#e4716a" stroke-width="0.75" opacity="0.75"/>
<path d="M324.90 71.10H328.50M326.70 69.30V72.90" stroke="#e4716a" stroke-width="0.9"/>
<line x1="341.73" y1="98.00" x2="341.73" y2="98.00" stroke="#8a8a8a" stroke-width="0.8"/>
<line x1="341.73" y1="101.20" x2="341.73" y2="104.00" stroke="#8a8a8a" stroke-width="0.8"/>
<line x1="339.83" y1="98.00" x2="343.63" y2="98.00" stroke="#8a8a8a" stroke-width="0.8"/>
<line x1="339.83" y1="104.00" x2="343.63" y2="104.00" stroke="#8a8a8a" stroke-width="0.8"/>
<rect x="338.14" y="98.00" width="7.18" height="3.20" fill="#b3dbd2" stroke="#ababab" stroke-width="0.6"/>
<line x1="338.14" y1="99.50" x2="345.32" y2="99.50" stroke="#767676" stroke-width="0.7"/>
<path d="M340.33 98.00H343.13M341.73 96.70V99.30" stroke="#86cfbf" stroke-width="0.75" opacity="0.75"/>
<path d="M340.33 98.00H343.13M341.73 96.70V99.30" stroke="#86cfbf" stroke-width="0.75" opacity="0.75"/>
<path d="M340.33 99.50H343.13M341.73 98.20V100.80" stroke="#86cfbf" stroke-width="0.75" opacity="0.75"/>
<path d="M340.33 101.20H343.13M341.73 99.90V102.50" stroke="#86cfbf" stroke-width="0.75" opacity="0.75"/>
<path d="M340.33 104.00H343.13M341.73 102.70V105.30" stroke="#86cfbf" stroke-width="0.75" opacity="0.75"/>
<line x1="349.21" y1="98.00" x2="349.21" y2="100.00" stroke="#8a8a8a" stroke-width="0.8"/>
<line x1="349.21" y1="104.00" x2="349.21" y2="107.80" stroke="#8a8a8a" stroke-width="0.8"/>
<line x1="347.31" y1="98.00" x2="351.11" y2="98.00" stroke="#8a8a8a" stroke-width="0.8"/>
<line x1="347.31" y1="107.80" x2="351.11" y2="107.80" stroke="#8a8a8a" stroke-width="0.8"/>
<rect x="345.62" y="100.00" width="7.18" height="4.00" fill="#eff2c7" stroke="#ababab" stroke-width="0.6"/>
<line x1="345.62" y1="102.00" x2="352.80" y2="102.00" stroke="#767676" stroke-width="0.7"/>
<path d="M347.81 98.00H350.61M349.21 96.70V99.30" stroke="#e3e38f" stroke-width="0.75" opacity="0.75"/>
<path d="M347.81 100.00H350.61M349.21 98.70V101.30" stroke="#e3e38f" stroke-width="0.75" opacity="0.75"/>
<path d="M347.81 102.00H350.61M349.21 100.70V103.30" stroke="#e3e38f" stroke-width="0.75" opacity="0.75"/>
<path d="M347.81 104.00H350.61M349.21 102.70V105.30" stroke="#e3e38f" stroke-width="0.75" opacity="0.75"/>
<path d="M347.81 107.80H350.61M349.21 106.50V109.10" stroke="#e3e38f" stroke-width="0.75" opacity="0.75"/>
<line x1="356.69" y1="83.20" x2="356.69" y2="95.20" stroke="#8a8a8a" stroke-width="0.8"/>
<line x1="356.69" y1="121.60" x2="356.69" y2="124.20" stroke="#8a8a8a" stroke-width="0.8"/>
<line x1="354.79" y1="83.20" x2="358.59" y2="83.20" stroke="#8a8a8a" stroke-width="0.8"/>
<line x1="354.79" y1="124.20" x2="358.59" y2="124.20" stroke="#8a8a8a" stroke-width="0.8"/>
<rect x="353.10" y="95.20" width="7.18" height="26.40" fill="#d3d1e3" stroke="#ababab" stroke-width="0.6"/>
<line x1="353.10" y1="104.30" x2="360.28" y2="104.30" stroke="#767676" stroke-width="0.7"/>
<path d="M355.29 83.20H358.09M356.69 81.90V84.50" stroke="#aaa7d4" stroke-width="0.75" opacity="0.75"/>
<path d="M355.29 95.20H358.09M356.69 93.90V96.50" stroke="#aaa7d4" stroke-width="0.75" opacity="0.75"/>
<path d="M355.29 104.30H358.09M356.69 103.00V105.60" stroke="#aaa7d4" stroke-width="0.75" opacity="0.75"/>
<path d="M355.29 121.60H358.09M356.69 120.30V122.90" stroke="#aaa7d4" stroke-width="0.75" opacity="0.75"/>
<path d="M355.29 124.20H358.09M356.69 122.90V125.50" stroke="#aaa7d4" stroke-width="0.75" opacity="0.75"/>
<line x1="364.17" y1="93.00" x2="364.17" y2="99.60" stroke="#8a8a8a" stroke-width="0.8"/>
<line x1="364.17" y1="113.80" x2="364.17" y2="119.50" stroke="#8a8a8a" stroke-width="0.8"/>
<line x1="362.27" y1="93.00" x2="366.07" y2="93.00" stroke="#8a8a8a" stroke-width="0.8"/>
<line x1="362.27" y1="119.50" x2="366.07" y2="119.50" stroke="#8a8a8a" stroke-width="0.8"/>
<rect x="360.58" y="99.60" width="7.18" height="14.20" fill="#ebaca6" stroke="#ababab" stroke-width="0.6"/>
<line x1="360.58" y1="102.50" x2="367.76" y2="102.50" stroke="#767676" stroke-width="0.7"/>
<path d="M362.77 93.00H365.57M364.17 91.70V94.30" stroke="#e4716a" stroke-width="0.75" opacity="0.75"/>
<path d="M362.77 99.60H365.57M364.17 98.30V100.90" stroke="#e4716a" stroke-width="0.75" opacity="0.75"/>
<path d="M362.77 102.50H365.57M364.17 101.20V103.80" stroke="#e4716a" stroke-width="0.75" opacity="0.75"/>
<path d="M362.77 113.80H365.57M364.17 112.50V115.10" stroke="#e4716a" stroke-width="0.75" opacity="0.75"/>
<path d="M362.77 119.50H365.57M364.17 118.20V120.80" stroke="#e4716a" stroke-width="0.75" opacity="0.75"/>
<line x1="379.19" y1="95.60" x2="379.19" y2="96.40" stroke="#8a8a8a" stroke-width="0.8"/>
<line x1="379.19" y1="99.00" x2="379.19" y2="101.50" stroke="#8a8a8a" stroke-width="0.8"/>
<line x1="377.29" y1="95.60" x2="381.09" y2="95.60" stroke="#8a8a8a" stroke-width="0.8"/>
<line x1="377.29" y1="101.50" x2="381.09" y2="101.50" stroke="#8a8a8a" stroke-width="0.8"/>
<rect x="375.60" y="96.40" width="7.18" height="2.60" fill="#b3dbd2" stroke="#ababab" stroke-width="0.6"/>
<line x1="375.60" y1="97.50" x2="382.78" y2="97.50" stroke="#767676" stroke-width="0.7"/>
<path d="M377.79 95.60H380.59M379.19 94.30V96.90" stroke="#86cfbf" stroke-width="0.75" opacity="0.75"/>
<path d="M377.79 96.40H380.59M379.19 95.10V97.70" stroke="#86cfbf" stroke-width="0.75" opacity="0.75"/>
<path d="M377.79 97.50H380.59M379.19 96.20V98.80" stroke="#86cfbf" stroke-width="0.75" opacity="0.75"/>
<path d="M377.79 99.00H380.59M379.19 97.70V100.30" stroke="#86cfbf" stroke-width="0.75" opacity="0.75"/>
<path d="M377.79 101.50H380.59M379.19 100.20V102.80" stroke="#86cfbf" stroke-width="0.75" opacity="0.75"/>
<line x1="386.67" y1="96.40" x2="386.67" y2="99.20" stroke="#8a8a8a" stroke-width="0.8"/>
<line x1="386.67" y1="100.90" x2="386.67" y2="100.90" stroke="#8a8a8a" stroke-width="0.8"/>
<line x1="384.77" y1="96.40" x2="388.57" y2="96.40" stroke="#8a8a8a" stroke-width="0.8"/>
<line x1="384.77" y1="100.90" x2="388.57" y2="100.90" stroke="#8a8a8a" stroke-width="0.8"/>
<rect x="383.08" y="99.20" width="7.18" height="1.70" fill="#eff2c7" stroke="#ababab" stroke-width="0.6"/>
<line x1="383.08" y1="100.00" x2="390.26" y2="100.00" stroke="#767676" stroke-width="0.7"/>
<path d="M385.27 96.40H388.07M386.67 95.10V97.70" stroke="#e3e38f" stroke-width="0.75" opacity="0.75"/>
<path d="M385.27 99.20H388.07M386.67 97.90V100.50" stroke="#e3e38f" stroke-width="0.75" opacity="0.75"/>
<path d="M385.27 100.00H388.07M386.67 98.70V101.30" stroke="#e3e38f" stroke-width="0.75" opacity="0.75"/>
<path d="M385.27 100.90H388.07M386.67 99.60V102.20" stroke="#e3e38f" stroke-width="0.75" opacity="0.75"/>
<path d="M385.27 100.90H388.07M386.67 99.60V102.20" stroke="#e3e38f" stroke-width="0.75" opacity="0.75"/>
<path d="M384.60 107.20H388.20M386.40 105.40V109.00" stroke="#e3e38f" stroke-width="0.9"/>
<line x1="394.15" y1="83.90" x2="394.15" y2="94.20" stroke="#8a8a8a" stroke-width="0.8"/>
<line x1="394.15" y1="114.70" x2="394.15" y2="119.10" stroke="#8a8a8a" stroke-width="0.8"/>
<line x1="392.25" y1="83.90" x2="396.05" y2="83.90" stroke="#8a8a8a" stroke-width="0.8"/>
<line x1="392.25" y1="119.10" x2="396.05" y2="119.10" stroke="#8a8a8a" stroke-width="0.8"/>
<rect x="390.56" y="94.20" width="7.18" height="20.50" fill="#d3d1e3" stroke="#ababab" stroke-width="0.6"/>
<line x1="390.56" y1="105.30" x2="397.74" y2="105.30" stroke="#767676" stroke-width="0.7"/>
<path d="M392.75 83.90H395.55M394.15 82.60V85.20" stroke="#aaa7d4" stroke-width="0.75" opacity="0.75"/>
<path d="M392.75 94.20H395.55M394.15 92.90V95.50" stroke="#aaa7d4" stroke-width="0.75" opacity="0.75"/>
<path d="M392.75 105.30H395.55M394.15 104.00V106.60" stroke="#aaa7d4" stroke-width="0.75" opacity="0.75"/>
<path d="M392.75 114.70H395.55M394.15 113.40V116.00" stroke="#aaa7d4" stroke-width="0.75" opacity="0.75"/>
<path d="M392.75 119.10H395.55M394.15 117.80V120.40" stroke="#aaa7d4" stroke-width="0.75" opacity="0.75"/>
<line x1="401.63" y1="93.30" x2="401.63" y2="100.20" stroke="#8a8a8a" stroke-width="0.8"/>
<line x1="401.63" y1="109.70" x2="401.63" y2="115.10" stroke="#8a8a8a" stroke-width="0.8"/>
<line x1="399.73" y1="93.30" x2="403.53" y2="93.30" stroke="#8a8a8a" stroke-width="0.8"/>
<line x1="399.73" y1="115.10" x2="403.53" y2="115.10" stroke="#8a8a8a" stroke-width="0.8"/>
<rect x="398.04" y="100.20" width="7.18" height="9.50" fill="#ebaca6" stroke="#ababab" stroke-width="0.6"/>
<line x1="398.04" y1="100.90" x2="405.22" y2="100.90" stroke="#767676" stroke-width="0.7"/>
<path d="M400.23 93.30H403.03M401.63 92.00V94.60" stroke="#e4716a" stroke-width="0.75" opacity="0.75"/>
<path d="M400.23 100.20H403.03M401.63 98.90V101.50" stroke="#e4716a" stroke-width="0.75" opacity="0.75"/>
<path d="M400.23 100.90H403.03M401.63 99.60V102.20" stroke="#e4716a" stroke-width="0.75" opacity="0.75"/>
<path d="M400.23 109.70H403.03M401.63 108.40V111.00" stroke="#e4716a" stroke-width="0.75" opacity="0.75"/>
<path d="M400.23 115.10H403.03M401.63 113.80V116.40" stroke="#e4716a" stroke-width="0.75" opacity="0.75"/>
<line x1="416.65" y1="153.20" x2="416.65" y2="153.20" stroke="#8a8a8a" stroke-width="0.8"/>
<line x1="416.65" y1="158.70" x2="416.65" y2="160.70" stroke="#8a8a8a" stroke-width="0.8"/>
<line x1="414.75" y1="153.20" x2="418.55" y2="153.20" stroke="#8a8a8a" stroke-width="0.8"/>
<line x1="414.75" y1="160.70" x2="418.55" y2="160.70" stroke="#8a8a8a" stroke-width="0.8"/>
<rect x="413.06" y="153.20" width="7.18" height="5.50" fill="#b3dbd2" stroke="#ababab" stroke-width="0.6"/>
<line x1="413.06" y1="156.00" x2="420.24" y2="156.00" stroke="#767676" stroke-width="0.7"/>
<path d="M415.25 153.20H418.05M416.65 151.90V154.50" stroke="#86cfbf" stroke-width="0.75" opacity="0.75"/>
<path d="M415.25 153.20H418.05M416.65 151.90V154.50" stroke="#86cfbf" stroke-width="0.75" opacity="0.75"/>
<path d="M415.25 156.00H418.05M416.65 154.70V157.30" stroke="#86cfbf" stroke-width="0.75" opacity="0.75"/>
<path d="M415.25 158.70H418.05M416.65 157.40V160.00" stroke="#86cfbf" stroke-width="0.75" opacity="0.75"/>
<path d="M415.25 160.70H418.05M416.65 159.40V162.00" stroke="#86cfbf" stroke-width="0.75" opacity="0.75"/>
<path d="M414.60 144.30H418.20M416.40 142.50V146.10" stroke="#86cfbf" stroke-width="0.9"/>
<line x1="424.13" y1="149.40" x2="424.13" y2="151.90" stroke="#8a8a8a" stroke-width="0.8"/>
<line x1="424.13" y1="159.40" x2="424.13" y2="159.40" stroke="#8a8a8a" stroke-width="0.8"/>
<line x1="422.23" y1="149.40" x2="426.03" y2="149.40" stroke="#8a8a8a" stroke-width="0.8"/>
<line x1="422.23" y1="159.40" x2="426.03" y2="159.40" stroke="#8a8a8a" stroke-width="0.8"/>
<rect x="420.54" y="151.90" width="7.18" height="7.50" fill="#eff2c7" stroke="#ababab" stroke-width="0.6"/>
<line x1="420.54" y1="155.50" x2="427.72" y2="155.50" stroke="#767676" stroke-width="0.7"/>
<path d="M422.73 149.40H425.53M424.13 148.10V150.70" stroke="#e3e38f" stroke-width="0.75" opacity="0.75"/>
<path d="M422.73 151.90H425.53M424.13 150.60V153.20" stroke="#e3e38f" stroke-width="0.75" opacity="0.75"/>
<path d="M422.73 155.50H425.53M424.13 154.20V156.80" stroke="#e3e38f" stroke-width="0.75" opacity="0.75"/>
<path d="M422.73 159.40H425.53M424.13 158.10V160.70" stroke="#e3e38f" stroke-width="0.75" opacity="0.75"/>
<path d="M422.73 159.40H425.53M424.13 158.10V160.70" stroke="#e3e38f" stroke-width="0.75" opacity="0.75"/>
<path d="M421.90 173.40H425.50M423.70 171.60V175.20" stroke="#e3e38f" stroke-width="0.9"/>
<line x1="431.61" y1="150.50" x2="431.61" y2="151.90" stroke="#8a8a8a" stroke-width="0.8"/>
<line x1="431.61" y1="167.60" x2="431.61" y2="183.30" stroke="#8a8a8a" stroke-width="0.8"/>
<line x1="429.71" y1="150.50" x2="433.51" y2="150.50" stroke="#8a8a8a" stroke-width="0.8"/>
<line x1="429.71" y1="183.30" x2="433.51" y2="183.30" stroke="#8a8a8a" stroke-width="0.8"/>
<rect x="428.02" y="151.90" width="7.18" height="15.70" fill="#d3d1e3" stroke="#ababab" stroke-width="0.6"/>
<line x1="428.02" y1="162.50" x2="435.20" y2="162.50" stroke="#767676" stroke-width="0.7"/>
<path d="M430.21 150.50H433.01M431.61 149.20V151.80" stroke="#aaa7d4" stroke-width="0.75" opacity="0.75"/>
<path d="M430.21 151.90H433.01M431.61 150.60V153.20" stroke="#aaa7d4" stroke-width="0.75" opacity="0.75"/>
<path d="M430.21 162.50H433.01M431.61 161.20V163.80" stroke="#aaa7d4" stroke-width="0.75" opacity="0.75"/>
<path d="M430.21 167.60H433.01M431.61 166.30V168.90" stroke="#aaa7d4" stroke-width="0.75" opacity="0.75"/>
<path d="M430.21 183.30H433.01M431.61 182.00V184.60" stroke="#aaa7d4" stroke-width="0.75" opacity="0.75"/>
<line x1="439.09" y1="155.30" x2="439.09" y2="160.70" stroke="#8a8a8a" stroke-width="0.8"/>
<line x1="439.09" y1="167.60" x2="439.09" y2="167.60" stroke="#8a8a8a" stroke-width="0.8"/>
<line x1="437.19" y1="155.30" x2="440.99" y2="155.30" stroke="#8a8a8a" stroke-width="0.8"/>
<line x1="437.19" y1="167.60" x2="440.99" y2="167.60" stroke="#8a8a8a" stroke-width="0.8"/>
<rect x="435.50" y="160.70" width="7.18" height="6.90" fill="#ebaca6" stroke="#ababab" stroke-width="0.6"/>
<line x1="435.50" y1="163.00" x2="442.68" y2="163.00" stroke="#767676" stroke-width="0.7"/>
<path d="M437.69 155.30H440.49M439.09 154.00V156.60" stroke="#e4716a" stroke-width="0.75" opacity="0.75"/>
<path d="M437.69 160.70H440.49M439.09 159.40V162.00" stroke="#e4716a" stroke-width="0.75" opacity="0.75"/>
<path d="M437.69 163.00H440.49M439.09 161.70V164.30" stroke="#e4716a" stroke-width="0.75" opacity="0.75"/>
<path d="M437.69 167.60H440.49M439.09 166.30V168.90" stroke="#e4716a" stroke-width="0.75" opacity="0.75"/>
<path d="M437.69 167.60H440.49M439.09 166.30V168.90" stroke="#e4716a" stroke-width="0.75" opacity="0.75"/>
<path d="M436.90 182.30H440.50M438.70 180.50V184.10" stroke="#e4716a" stroke-width="0.9"/>
<rect x="259.50" y="28.50" width="187.00" height="161.00" fill="none" stroke="#707070" stroke-width="1.0"/>
<line x1="256.70" y1="28.30" x2="259.30" y2="28.30" stroke="#707070" stroke-width="0.8"/>
<text x="255.60" y="31.00" font-size="8.3" text-anchor="end" font-weight="normal" fill="#2b2b2b" transform="translate(255.60 0) scale(0.88 1) translate(-255.60 0)" style="stroke-width:0.06px">1.00</text>
<line x1="256.70" y1="58.02" x2="259.30" y2="58.02" stroke="#707070" stroke-width="0.8"/>
<text x="255.60" y="60.72" font-size="8.3" text-anchor="end" font-weight="normal" fill="#2b2b2b" transform="translate(255.60 0) scale(0.88 1) translate(-255.60 0)" style="stroke-width:0.06px">0.96</text>
<line x1="256.70" y1="87.74" x2="259.30" y2="87.74" stroke="#707070" stroke-width="0.8"/>
<text x="255.60" y="90.44" font-size="8.3" text-anchor="end" font-weight="normal" fill="#2b2b2b" transform="translate(255.60 0) scale(0.88 1) translate(-255.60 0)" style="stroke-width:0.06px">0.92</text>
<line x1="256.70" y1="117.46" x2="259.30" y2="117.46" stroke="#707070" stroke-width="0.8"/>
<text x="255.60" y="120.16" font-size="8.3" text-anchor="end" font-weight="normal" fill="#2b2b2b" transform="translate(255.60 0) scale(0.88 1) translate(-255.60 0)" style="stroke-width:0.06px">0.88</text>
<line x1="256.70" y1="147.18" x2="259.30" y2="147.18" stroke="#707070" stroke-width="0.8"/>
<text x="255.60" y="149.88" font-size="8.3" text-anchor="end" font-weight="normal" fill="#2b2b2b" transform="translate(255.60 0) scale(0.88 1) translate(-255.60 0)" style="stroke-width:0.06px">0.84</text>
<line x1="256.70" y1="176.90" x2="259.30" y2="176.90" stroke="#707070" stroke-width="0.8"/>
<text x="255.60" y="179.60" font-size="8.3" text-anchor="end" font-weight="normal" fill="#2b2b2b" transform="translate(255.60 0) scale(0.88 1) translate(-255.60 0)" style="stroke-width:0.06px">0.80</text>
<line x1="278.03" y1="189.00" x2="278.03" y2="191.60" stroke="#707070" stroke-width="0.8"/>
<text x="278.03" y="198.90" font-size="8.3" text-anchor="middle" font-weight="normal" fill="#2b2b2b" style="stroke-width:0.06px">Acc</text>
<line x1="315.49" y1="189.00" x2="315.49" y2="191.60" stroke="#707070" stroke-width="0.8"/>
<text x="315.49" y="198.90" font-size="8.3" text-anchor="middle" font-weight="normal" fill="#2b2b2b" style="stroke-width:0.06px">Rec</text>
<line x1="352.95" y1="189.00" x2="352.95" y2="191.60" stroke="#707070" stroke-width="0.8"/>
<text x="352.95" y="198.90" font-size="8.3" text-anchor="middle" font-weight="normal" fill="#2b2b2b" style="stroke-width:0.06px">Spe</text>
<line x1="390.41" y1="189.00" x2="390.41" y2="191.60" stroke="#707070" stroke-width="0.8"/>
<text x="390.41" y="198.90" font-size="8.3" text-anchor="middle" font-weight="normal" fill="#2b2b2b" style="stroke-width:0.06px">Pre</text>
<line x1="427.87" y1="189.00" x2="427.87" y2="191.60" stroke="#707070" stroke-width="0.8"/>
<text x="427.87" y="198.90" font-size="8.3" text-anchor="middle" font-weight="normal" fill="#2b2b2b" style="stroke-width:0.06px">MCC</text>
<text x="353.00" y="210.60" font-size="11.9" text-anchor="middle" font-weight="normal" fill="#111">Performance metrics</text>
<text x="237.30" y="109.30" font-size="12.0" text-anchor="middle" font-weight="normal" fill="#111" transform="rotate(-90 237.30 109.30)">Performance</text>
<rect x="370.30" y="31.60" width="72.20" height="41.60" rx="1.5" fill="#fff" fill-opacity="0.8" stroke="#d8d8d8" stroke-width="0.7"/>
<rect x="372.60" y="34.50" width="14" height="5.2" fill="#b3dbd2" stroke="#a6a6a6" stroke-width="0.6"/>
<text x="392.30" y="39.60" font-size="7.0" text-anchor="start" font-weight="normal" fill="#2b2b2b" style="stroke-width:0.06px">w LLMs</text>
<rect x="372.60" y="44.45" width="14" height="5.2" fill="#eff2c7" stroke="#a6a6a6" stroke-width="0.6"/>
<text x="392.30" y="49.55" font-size="7.0" text-anchor="start" font-weight="normal" fill="#2b2b2b" style="stroke-width:0.06px">w RNA-LLMs</text>
<rect x="372.60" y="54.40" width="14" height="5.2" fill="#d3d1e3" stroke="#a6a6a6" stroke-width="0.6"/>
<text x="392.30" y="59.50" font-size="7.0" text-anchor="start" font-weight="normal" fill="#2b2b2b" style="stroke-width:0.06px">w protein-LLMs</text>
<rect x="372.60" y="64.35" width="14" height="5.2" fill="#ebaca6" stroke="#a6a6a6" stroke-width="0.6"/>
<text x="392.30" y="69.45" font-size="7.0" text-anchor="start" font-weight="normal" fill="#2b2b2b" style="stroke-width:0.06px">w/o LLMs</text>
<rect x="496.40" y="52.20" width="14.8" height="135.30" fill="#d8eaf0"/>
<rect x="511.20" y="46.90" width="14.8" height="140.60" fill="#f3ebcf"/>
<circle cx="503.70" cy="45.40" r="2.1" fill="#3d88b9"/>
<circle cx="503.70" cy="54.90" r="2.1" fill="#3d88b9"/>
<circle cx="503.70" cy="58.00" r="2.1" fill="#3d88b9"/>
<circle cx="518.50" cy="41.70" r="2.1" fill="#e8c85a"/>
<circle cx="518.50" cy="48.60" r="2.1" fill="#e8c85a"/>
<circle cx="518.50" cy="50.70" r="2.1" fill="#e8c85a"/>
<circle cx="518.50" cy="52.20" r="2.1" fill="#e8c85a"/>
<rect x="545.80" y="88.90" width="14.8" height="98.60" fill="#d8eaf0"/>
<rect x="560.60" y="72.50" width="14.8" height="115.00" fill="#f3ebcf"/>
<circle cx="553.10" cy="64.80" r="2.1" fill="#3d88b9"/>
<circle cx="553.10" cy="70.40" r="2.1" fill="#3d88b9"/>
<circle cx="553.10" cy="91.00" r="2.1" fill="#3d88b9"/>
<circle cx="553.10" cy="104.70" r="2.1" fill="#3d88b9"/>
<circle cx="553.10" cy="112.50" r="2.1" fill="#3d88b9"/>
<circle cx="567.90" cy="61.60" r="2.1" fill="#e8c85a"/>
<circle cx="567.90" cy="76.70" r="2.1" fill="#e8c85a"/>
<circle cx="567.90" cy="78.40" r="2.1" fill="#e8c85a"/>
<circle cx="567.90" cy="84.10" r="2.1" fill="#e8c85a"/>
<rect x="595.40" y="65.60" width="14.8" height="121.90" fill="#d8eaf0"/>
<rect x="610.20" y="58.30" width="14.8" height="129.20" fill="#f3ebcf"/>
<circle cx="602.70" cy="58.50" r="2.1" fill="#3d88b9"/>
<circle cx="602.70" cy="61.00" r="2.1" fill="#3d88b9"/>
<circle cx="602.70" cy="63.10" r="2.1" fill="#3d88b9"/>
<circle cx="602.70" cy="68.80" r="2.1" fill="#3d88b9"/>
<circle cx="602.70" cy="75.10" r="2.1" fill="#3d88b9"/>
<circle cx="617.50" cy="52.60" r="2.1" fill="#e8c85a"/>
<circle cx="617.50" cy="55.80" r="2.1" fill="#e8c85a"/>
<circle cx="617.50" cy="58.90" r="2.1" fill="#e8c85a"/>
<circle cx="617.50" cy="64.60" r="2.1" fill="#e8c85a"/>
<rect x="645.20" y="101.30" width="14.8" height="86.20" fill="#d8eaf0"/>
<rect x="660.00" y="81.40" width="14.8" height="106.10" fill="#f3ebcf"/>
<circle cx="652.50" cy="82.00" r="2.1" fill="#3d88b9"/>
<circle cx="652.50" cy="103.00" r="2.1" fill="#3d88b9"/>
<circle cx="652.50" cy="105.10" r="2.1" fill="#3d88b9"/>
<circle cx="652.50" cy="107.60" r="2.1" fill="#3d88b9"/>
<circle cx="667.30" cy="69.00" r="2.1" fill="#e8c85a"/>
<circle cx="667.30" cy="79.90" r="2.1" fill="#e8c85a"/>
<circle cx="667.30" cy="82.00" r="2.1" fill="#e8c85a"/>
<circle cx="667.30" cy="92.90" r="2.1" fill="#e8c85a"/>
<rect x="487.50" y="28.50" width="196.00" height="159.00" fill="none" stroke="#707070" stroke-width="1.0"/>
<line x1="484.40" y1="28.60" x2="487.00" y2="28.60" stroke="#707070" stroke-width="0.8"/>
<text x="483.20" y="31.60" font-size="8.6" text-anchor="end" font-weight="normal" fill="#2b2b2b" style="stroke-width:0.06px">0.9</text>
<line x1="484.40" y1="51.30" x2="487.00" y2="51.30" stroke="#707070" stroke-width="0.8"/>
<text x="483.20" y="54.30" font-size="8.6" text-anchor="end" font-weight="normal" fill="#2b2b2b" style="stroke-width:0.06px">0.8</text>
<line x1="484.40" y1="74.00" x2="487.00" y2="74.00" stroke="#707070" stroke-width="0.8"/>
<text x="483.20" y="77.00" font-size="8.6" text-anchor="end" font-weight="normal" fill="#2b2b2b" style="stroke-width:0.06px">0.7</text>
<line x1="484.40" y1="96.70" x2="487.00" y2="96.70" stroke="#707070" stroke-width="0.8"/>
<text x="483.20" y="99.70" font-size="8.6" text-anchor="end" font-weight="normal" fill="#2b2b2b" style="stroke-width:0.06px">0.6</text>
<line x1="484.40" y1="119.40" x2="487.00" y2="119.40" stroke="#707070" stroke-width="0.8"/>
<text x="483.20" y="122.40" font-size="8.6" text-anchor="end" font-weight="normal" fill="#2b2b2b" style="stroke-width:0.06px">0.5</text>
<line x1="484.40" y1="142.10" x2="487.00" y2="142.10" stroke="#707070" stroke-width="0.8"/>
<text x="483.20" y="145.10" font-size="8.6" text-anchor="end" font-weight="normal" fill="#2b2b2b" style="stroke-width:0.06px">0.4</text>
<line x1="484.40" y1="164.80" x2="487.00" y2="164.80" stroke="#707070" stroke-width="0.8"/>
<text x="483.20" y="167.80" font-size="8.6" text-anchor="end" font-weight="normal" fill="#2b2b2b" style="stroke-width:0.06px">0.3</text>
<line x1="484.40" y1="187.50" x2="487.00" y2="187.50" stroke="#707070" stroke-width="0.8"/>
<text x="483.20" y="190.50" font-size="8.6" text-anchor="end" font-weight="normal" fill="#2b2b2b" style="stroke-width:0.06px">0.2</text>
<line x1="511.20" y1="187.50" x2="511.20" y2="190.10" stroke="#707070" stroke-width="0.8"/>
<text x="510.50" y="197.60" font-size="8.9" text-anchor="middle" font-weight="normal" fill="#2b2b2b" style="stroke-width:0.06px">w</text>
<text x="512.40" y="207.20" font-size="8.9" text-anchor="middle" font-weight="normal" fill="#2b2b2b" style="stroke-width:0.06px">LLMs</text>
<line x1="560.60" y1="187.50" x2="560.60" y2="190.10" stroke="#707070" stroke-width="0.8"/>
<text x="559.90" y="197.60" font-size="8.9" text-anchor="middle" font-weight="normal" fill="#2b2b2b" style="stroke-width:0.06px">w</text>
<text x="561.00" y="207.20" font-size="8.9" text-anchor="middle" font-weight="normal" fill="#2b2b2b" style="stroke-width:0.06px">protein</text>
<text x="561.80" y="216.80" font-size="8.9" text-anchor="middle" font-weight="normal" fill="#2b2b2b" style="stroke-width:0.06px">LLMs</text>
<line x1="610.20" y1="187.50" x2="610.20" y2="190.10" stroke="#707070" stroke-width="0.8"/>
<text x="609.50" y="197.60" font-size="8.9" text-anchor="middle" font-weight="normal" fill="#2b2b2b" style="stroke-width:0.06px">w</text>
<text x="610.60" y="207.20" font-size="8.9" text-anchor="middle" font-weight="normal" fill="#2b2b2b" style="stroke-width:0.06px">RNA</text>
<text x="611.40" y="216.80" font-size="8.9" text-anchor="middle" font-weight="normal" fill="#2b2b2b" style="stroke-width:0.06px">LLMs</text>
<line x1="660.00" y1="187.50" x2="660.00" y2="190.10" stroke="#707070" stroke-width="0.8"/>
<text x="659.30" y="197.60" font-size="8.9" text-anchor="middle" font-weight="normal" fill="#2b2b2b" style="stroke-width:0.06px">w/o</text>
<text x="661.20" y="207.20" font-size="8.9" text-anchor="middle" font-weight="normal" fill="#2b2b2b" style="stroke-width:0.06px">LLMs</text>
<text x="585.50" y="230.70" font-size="13.4" text-anchor="middle" font-weight="normal" fill="#111">Methods</text>
<text x="467.00" y="108.90" font-size="13.3" text-anchor="middle" font-weight="normal" fill="#111" transform="rotate(-90 467.00 108.90)">Performance</text>
<rect x="540.5" y="33.6" width="138.8" height="14.8" rx="1.5" fill="#fff" fill-opacity="0.8" stroke="#d8d8d8" stroke-width="0.7"/>
<rect x="543.8" y="37.1" width="17.9" height="5.9" fill="#d8eaf0"/>
<text x="568.90" y="43.70" font-size="9.4" text-anchor="start" font-weight="normal" fill="#2b2b2b" transform="translate(568.90 0) scale(0.95 1) translate(-568.90 0)" style="stroke-width:0.06px">AUROC</text>
<rect x="619.3" y="37.1" width="17.5" height="5.9" fill="#f3ebcf"/>
<text x="644.50" y="43.70" font-size="9.4" text-anchor="start" font-weight="normal" fill="#2b2b2b" transform="translate(644.50 0) scale(0.95 1) translate(-644.50 0)" style="stroke-width:0.06px">AUPRC</text>
<line x1="41.30" y1="271.20" x2="41.30" y2="433.50" stroke="#cdcdcd" stroke-width="0.8"/>
<line x1="75.12" y1="271.20" x2="75.12" y2="433.50" stroke="#cdcdcd" stroke-width="0.8"/>
<line x1="108.94" y1="271.20" x2="108.94" y2="433.50" stroke="#cdcdcd" stroke-width="0.8"/>
<line x1="142.76" y1="271.20" x2="142.76" y2="433.50" stroke="#cdcdcd" stroke-width="0.8"/>
<line x1="176.58" y1="271.20" x2="176.58" y2="433.50" stroke="#cdcdcd" stroke-width="0.8"/>
<line x1="210.40" y1="271.20" x2="210.40" y2="433.50" stroke="#cdcdcd" stroke-width="0.8"/>
<line x1="33.50" y1="410.31" x2="218.30" y2="410.31" stroke="#cdcdcd" stroke-width="0.8"/>
<line x1="33.50" y1="387.12" x2="218.30" y2="387.12" stroke="#cdcdcd" stroke-width="0.8"/>
<line x1="33.50" y1="363.93" x2="218.30" y2="363.93" stroke="#cdcdcd" stroke-width="0.8"/>
<line x1="33.50" y1="340.74" x2="218.30" y2="340.74" stroke="#cdcdcd" stroke-width="0.8"/>
<line x1="33.50" y1="317.55" x2="218.30" y2="317.55" stroke="#cdcdcd" stroke-width="0.8"/>
<line x1="33.50" y1="294.36" x2="218.30" y2="294.36" stroke="#cdcdcd" stroke-width="0.8"/>
<polygon points="41.30,290.90 75.12,321.90 108.94,340.70 142.76,362.90 176.58,383.00 210.40,401.20 210.40,406.20 176.58,392.00 142.76,374.90 108.94,356.70 75.12,333.90 41.30,300.90" fill="#84d3bc" fill-opacity="0.22"/>
<polygon points="41.30,293.60 75.12,328.70 108.94,354.80 142.76,374.50 176.58,390.10 210.40,403.60 210.40,408.60 176.58,399.10 142.76,386.50 108.94,366.80 75.12,339.70 41.30,305.60" fill="#e7c75a" fill-opacity="0.25"/>
<polygon points="41.30,292.40 75.12,333.00 108.94,362.80 142.76,385.50 176.58,395.90 210.40,407.00 210.40,413.00 176.58,421.90 142.76,409.50 108.94,392.80 75.12,359.00 41.30,320.40" fill="#b9b6e0" fill-opacity="0.27"/>
<polygon points="41.30,291.20 75.12,351.30 108.94,383.40 142.76,400.30 176.58,406.20 210.40,407.00 210.40,413.00 176.58,420.20 142.76,414.30 108.94,401.40 75.12,369.30 41.30,325.20" fill="#e7736b" fill-opacity="0.3"/>
<polyline points="41.30,295.90 75.12,327.90 108.94,348.70 142.76,368.90 176.58,387.50 210.40,403.70" fill="none" stroke="#84d3bc" stroke-width="1.15"/>
<circle cx="41.30" cy="295.90" r="1.7" fill="#84d3bc"/>
<circle cx="75.12" cy="327.90" r="1.7" fill="#84d3bc"/>
<circle cx="108.94" cy="348.70" r="1.7" fill="#84d3bc"/>
<circle cx="142.76" cy="368.90" r="1.7" fill="#84d3bc"/>
<circle cx="176.58" cy="387.50" r="1.7" fill="#84d3bc"/>
<circle cx="210.40" cy="403.70" r="1.7" fill="#84d3bc"/>
<polyline points="41.30,299.60 75.12,334.20 108.94,360.80 142.76,380.50 176.58,394.60 210.40,406.10" fill="none" stroke="#e7c75a" stroke-width="1.15"/>
<circle cx="41.30" cy="299.60" r="1.7" fill="#e7c75a"/>
<circle cx="75.12" cy="334.20" r="1.7" fill="#e7c75a"/>
<circle cx="108.94" cy="360.80" r="1.7" fill="#e7c75a"/>
<circle cx="142.76" cy="380.50" r="1.7" fill="#e7c75a"/>
<circle cx="176.58" cy="394.60" r="1.7" fill="#e7c75a"/>
<circle cx="210.40" cy="406.10" r="1.7" fill="#e7c75a"/>
<polyline points="41.30,306.40 75.12,346.00 108.94,377.80 142.76,397.50 176.58,408.90 210.40,410.00" fill="none" stroke="#b9b6e0" stroke-width="1.15"/>
<circle cx="41.30" cy="306.40" r="1.7" fill="#b9b6e0"/>
<circle cx="75.12" cy="346.00" r="1.7" fill="#b9b6e0"/>
<circle cx="108.94" cy="377.80" r="1.7" fill="#b9b6e0"/>
<circle cx="142.76" cy="397.50" r="1.7" fill="#b9b6e0"/>
<circle cx="176.58" cy="408.90" r="1.7" fill="#b9b6e0"/>
<circle cx="210.40" cy="410.00" r="1.7" fill="#b9b6e0"/>
<polyline points="41.30,308.20 75.12,360.30 108.94,392.40 142.76,407.30 176.58,413.20 210.40,410.00" fill="none" stroke="#e7736b" stroke-width="1.15"/>
<circle cx="41.30" cy="308.20" r="1.7" fill="#e7736b"/>
<circle cx="75.12" cy="360.30" r="1.7" fill="#e7736b"/>
<circle cx="108.94" cy="392.40" r="1.7" fill="#e7736b"/>
<circle cx="142.76" cy="407.30" r="1.7" fill="#e7736b"/>
<circle cx="176.58" cy="413.20" r="1.7" fill="#e7736b"/>
<circle cx="210.40" cy="410.00" r="1.7" fill="#e7736b"/>
<rect x="33.50" y="271.50" width="185.00" height="162.00" fill="none" stroke="#707070" stroke-width="1.0"/>
<line x1="30.90" y1="271.17" x2="33.50" y2="271.17" stroke="#707070" stroke-width="0.8"/>
<text x="29.70" y="274.17" font-size="8.6" text-anchor="end" font-weight="normal" fill="#2b2b2b" style="stroke-width:0.06px">1.1</text>
<line x1="30.90" y1="294.36" x2="33.50" y2="294.36" stroke="#707070" stroke-width="0.8"/>
<text x="29.70" y="297.36" font-size="8.6" text-anchor="end" font-weight="normal" fill="#2b2b2b" style="stroke-width:0.06px">1.0</text>
<line x1="30.90" y1="317.55" x2="33.50" y2="317.55" stroke="#707070" stroke-width="0.8"/>
<text x="29.70" y="320.55" font-size="8.6" text-anchor="end" font-weight="normal" fill="#2b2b2b" style="stroke-width:0.06px">0.9</text>
<line x1="30.90" y1="340.74" x2="33.50" y2="340.74" stroke="#707070" stroke-width="0.8"/>
<text x="29.70" y="343.74" font-size="8.6" text-anchor="end" font-weight="normal" fill="#2b2b2b" style="stroke-width:0.06px">0.8</text>
<line x1="30.90" y1="363.93" x2="33.50" y2="363.93" stroke="#707070" stroke-width="0.8"/>
<text x="29.70" y="366.93" font-size="8.6" text-anchor="end" font-weight="normal" fill="#2b2b2b" style="stroke-width:0.06px">0.7</text>
<line x1="30.90" y1="387.12" x2="33.50" y2="387.12" stroke="#707070" stroke-width="0.8"/>
<text x="29.70" y="390.12" font-size="8.6" text-anchor="end" font-weight="normal" fill="#2b2b2b" style="stroke-width:0.06px">0.6</text>
<line x1="30.90" y1="410.31" x2="33.50" y2="410.31" stroke="#707070" stroke-width="0.8"/>
<text x="29.70" y="413.31" font-size="8.6" text-anchor="end" font-weight="normal" fill="#2b2b2b" style="stroke-width:0.06px">0.5</text>
<line x1="30.90" y1="433.50" x2="33.50" y2="433.50" stroke="#707070" stroke-width="0.8"/>
<text x="29.70" y="436.50" font-size="8.6" text-anchor="end" font-weight="normal" fill="#2b2b2b" style="stroke-width:0.06px">0.4</text>
<line x1="41.30" y1="433.50" x2="41.30" y2="436.10" stroke="#707070" stroke-width="0.8"/>
<text x="41.30" y="443.00" font-size="8.6" text-anchor="middle" font-weight="normal" fill="#2b2b2b" style="stroke-width:0.06px">200</text>
<line x1="75.12" y1="433.50" x2="75.12" y2="436.10" stroke="#707070" stroke-width="0.8"/>
<text x="75.12" y="443.00" font-size="8.6" text-anchor="middle" font-weight="normal" fill="#2b2b2b" style="stroke-width:0.06px">600</text>
<line x1="108.94" y1="433.50" x2="108.94" y2="436.10" stroke="#707070" stroke-width="0.8"/>
<text x="108.94" y="443.00" font-size="8.6" text-anchor="middle" font-weight="normal" fill="#2b2b2b" style="stroke-width:0.06px">1000</text>
<line x1="142.76" y1="433.50" x2="142.76" y2="436.10" stroke="#707070" stroke-width="0.8"/>
<text x="142.76" y="443.00" font-size="8.6" text-anchor="middle" font-weight="normal" fill="#2b2b2b" style="stroke-width:0.06px">1400</text>
<line x1="176.58" y1="433.50" x2="176.58" y2="436.10" stroke="#707070" stroke-width="0.8"/>
<text x="176.58" y="443.00" font-size="8.6" text-anchor="middle" font-weight="normal" fill="#2b2b2b" style="stroke-width:0.06px">1800</text>
<line x1="210.40" y1="433.50" x2="210.40" y2="436.10" stroke="#707070" stroke-width="0.8"/>
<text x="210.40" y="443.00" font-size="8.6" text-anchor="middle" font-weight="normal" fill="#2b2b2b" style="stroke-width:0.06px">2200</text>
<text x="126.00" y="456.20" font-size="12.1" text-anchor="middle" font-weight="normal" fill="#111">Top N</text>
<text x="14.30" y="352.10" font-size="12.25" text-anchor="middle" font-weight="normal" fill="#111" transform="rotate(-90 14.30 352.10)">Precision</text>
<rect x="126.4" y="275.4" width="87.9" height="49.9" rx="1.5" fill="#fff" fill-opacity="0.8" stroke="#d8d8d8" stroke-width="0.7"/>
<line x1="129.2" y1="281.60" x2="146.8" y2="281.60" stroke="#84d3bc" stroke-width="1.3"/>
<circle cx="138" cy="281.60" r="1.7" fill="#84d3bc"/>
<text x="153.00" y="284.70" font-size="8.5" text-anchor="start" font-weight="normal" fill="#2b2b2b" style="stroke-width:0.06px">w LLMs</text>
<line x1="129.2" y1="293.70" x2="146.8" y2="293.70" stroke="#e7c75a" stroke-width="1.3"/>
<circle cx="138" cy="293.70" r="1.7" fill="#e7c75a"/>
<text x="153.00" y="296.80" font-size="8.5" text-anchor="start" font-weight="normal" fill="#2b2b2b" style="stroke-width:0.06px">w RNA-LLMs</text>
<line x1="129.2" y1="305.80" x2="146.8" y2="305.80" stroke="#b9b6e0" stroke-width="1.3"/>
<circle cx="138" cy="305.80" r="1.7" fill="#b9b6e0"/>
<text x="153.00" y="308.90" font-size="8.5" text-anchor="start" font-weight="normal" fill="#2b2b2b" style="stroke-width:0.06px">w protein-LLMs</text>
<line x1="129.2" y1="317.90" x2="146.8" y2="317.90" stroke="#e7736b" stroke-width="1.3"/>
<circle cx="138" cy="317.90" r="1.7" fill="#e7736b"/>
<text x="153.00" y="321.00" font-size="8.5" text-anchor="start" font-weight="normal" fill="#2b2b2b" style="stroke-width:0.06px">w/o LLMs</text>
<g fill="#3f7cab" fill-opacity="0.32" stroke="#1b476b" stroke-opacity="0.36" stroke-width="0.6">
<circle cx="264.2" cy="278.4" r="1.85"/>
<circle cx="264.4" cy="278.7" r="1.85"/>
<circle cx="264.3" cy="280.2" r="1.85"/>
<circle cx="264.0" cy="282.0" r="1.85"/>
<circle cx="264.0" cy="283.9" r="1.85"/>
<circle cx="264.0" cy="286.2" r="1.85"/>
<circle cx="264.3" cy="290.7" r="1.85"/>
<circle cx="264.1" cy="293.4" r="1.85"/>
<circle cx="264.4" cy="297.9" r="1.85"/>
<circle cx="264.3" cy="300.8" r="1.85"/>
<circle cx="264.6" cy="304.1" r="1.85"/>
<circle cx="264.5" cy="308.6" r="1.85"/>
<circle cx="264.1" cy="310.2" r="1.85"/>
<circle cx="264.2" cy="313.6" r="1.85"/>
<circle cx="264.1" cy="317.2" r="1.85"/>
<circle cx="264.4" cy="319.7" r="1.85"/>
<circle cx="264.3" cy="322.1" r="1.85"/>
<circle cx="264.0" cy="325.4" r="1.85"/>
<circle cx="264.4" cy="328.9" r="1.85"/>
<circle cx="264.2" cy="331.2" r="1.85"/>
<circle cx="264.3" cy="333.6" r="1.85"/>
<circle cx="264.5" cy="338.4" r="1.85"/>
<circle cx="264.1" cy="341.1" r="1.85"/>
<circle cx="264.3" cy="344.8" r="1.85"/>
<circle cx="264.4" cy="346.6" r="1.85"/>
<circle cx="264.6" cy="349.2" r="1.85"/>
<circle cx="264.3" cy="353.5" r="1.85"/>
<circle cx="264.1" cy="356.0" r="1.85"/>
<circle cx="264.0" cy="359.3" r="1.85"/>
<circle cx="264.5" cy="362.1" r="1.85"/>
<circle cx="264.2" cy="289.8" r="1.85"/>
<circle cx="264.4" cy="305.2" r="1.85"/>
<circle cx="264.3" cy="315.1" r="1.85"/>
<circle cx="264.6" cy="292.8" r="1.85"/>
<circle cx="264.4" cy="324.2" r="1.85"/>
<circle cx="264.4" cy="359.7" r="1.85"/>
<circle cx="264.6" cy="309.4" r="1.85"/>
<circle cx="264.2" cy="294.4" r="1.85"/>
<circle cx="264.4" cy="331.8" r="1.85"/>
<circle cx="264.3" cy="362.9" r="1.85"/>
<circle cx="264.1" cy="350.5" r="1.85"/>
<circle cx="264.5" cy="359.8" r="1.85"/>
<circle cx="264.1" cy="353.8" r="1.85"/>
<circle cx="264.5" cy="331.3" r="1.85"/>
<circle cx="264.3" cy="358.0" r="1.85"/>
<circle cx="264.5" cy="317.7" r="1.85"/>
<circle cx="264.5" cy="294.6" r="1.85"/>
<circle cx="264.2" cy="341.0" r="1.85"/>
<circle cx="264.5" cy="334.1" r="1.85"/>
<circle cx="264.1" cy="282.7" r="1.85"/>
<circle cx="264.1" cy="349.8" r="1.85"/>
<circle cx="264.3" cy="344.9" r="1.85"/>
<circle cx="264.2" cy="314.3" r="1.85"/>
<circle cx="264.3" cy="364.5" r="1.85"/>
<circle cx="264.3" cy="333.2" r="1.85"/>
<circle cx="264.4" cy="283.1" r="1.85"/>
<circle cx="264.4" cy="320.7" r="1.85"/>
<circle cx="264.0" cy="306.9" r="1.85"/>
<circle cx="264.5" cy="287.7" r="1.85"/>
<circle cx="264.5" cy="289.9" r="1.85"/>
<circle cx="264.2" cy="402.6" r="1.85"/>
<circle cx="264.4" cy="420.6" r="1.85"/>
<circle cx="264.1" cy="423.1" r="1.85"/>
<circle cx="264.1" cy="414.0" r="1.85"/>
<circle cx="264.1" cy="405.9" r="1.85"/>
<circle cx="264.1" cy="427.0" r="1.85"/>
<circle cx="264.2" cy="420.7" r="1.85"/>
<circle cx="264.5" cy="425.4" r="1.85"/>
<circle cx="264.1" cy="388.9" r="1.85"/>
<circle cx="264.2" cy="411.3" r="1.85"/>
<circle cx="264.1" cy="404.4" r="1.85"/>
<circle cx="264.5" cy="374.3" r="1.85"/>
<circle cx="264.3" cy="398.1" r="1.85"/>
<circle cx="264.1" cy="421.7" r="1.85"/>
<circle cx="264.2" cy="405.7" r="1.85"/>
<circle cx="264.1" cy="375.5" r="1.85"/>
<circle cx="264.5" cy="425.6" r="1.85"/>
<circle cx="264.1" cy="394.2" r="1.85"/>
<circle cx="264.1" cy="393.3" r="1.85"/>
<circle cx="264.5" cy="394.2" r="1.85"/>
<circle cx="264.4" cy="373.4" r="1.85"/>
<circle cx="264.2" cy="410.8" r="1.85"/>
<circle cx="264.4" cy="416.6" r="1.85"/>
<circle cx="264.4" cy="393.9" r="1.85"/>
<circle cx="264.2" cy="406.5" r="1.85"/>
<circle cx="264.5" cy="376.6" r="1.85"/>
<circle cx="264.5" cy="374.0" r="1.85"/>
<circle cx="264.4" cy="376.2" r="1.85"/>
<circle cx="264.3" cy="412.9" r="1.85"/>
<circle cx="264.1" cy="404.9" r="1.85"/>
<circle cx="264.2" cy="425.3" r="1.85"/>
<circle cx="264.4" cy="410.9" r="1.85"/>
<circle cx="264.3" cy="367.6" r="1.85"/>
<circle cx="264.5" cy="368.8" r="1.85"/>
<circle cx="264.2" cy="367.7" r="1.85"/>
<circle cx="264.2" cy="413.3" r="1.85"/>
<circle cx="264.2" cy="414.8" r="1.85"/>
<circle cx="264.5" cy="388.2" r="1.85"/>
<circle cx="264.3" cy="374.8" r="1.85"/>
<circle cx="264.4" cy="386.4" r="1.85"/>
<circle cx="264.4" cy="421.7" r="1.85"/>
<circle cx="264.4" cy="370.5" r="1.85"/>
<circle cx="264.3" cy="380.4" r="1.85"/>
<circle cx="264.4" cy="415.9" r="1.85"/>
<circle cx="264.5" cy="406.3" r="1.85"/>
<circle cx="264.2" cy="366.6" r="1.85"/>
<circle cx="264.5" cy="402.1" r="1.85"/>
<circle cx="264.1" cy="382.0" r="1.85"/>
<circle cx="264.1" cy="419.1" r="1.85"/>
<circle cx="264.5" cy="370.8" r="1.85"/>
<circle cx="264.5" cy="417.9" r="1.85"/>
<circle cx="264.4" cy="366.1" r="1.85"/>
<circle cx="264.3" cy="405.2" r="1.85"/>
<circle cx="264.1" cy="418.9" r="1.85"/>
<circle cx="264.4" cy="366.7" r="1.85"/>
<circle cx="264.5" cy="394.3" r="1.85"/>
<circle cx="264.5" cy="400.1" r="1.85"/>
<circle cx="264.2" cy="375.7" r="1.85"/>
<circle cx="264.2" cy="411.4" r="1.85"/>
<circle cx="264.3" cy="412.1" r="1.85"/>
<circle cx="264.3" cy="410.9" r="1.85"/>
<circle cx="264.5" cy="418.9" r="1.85"/>
<circle cx="264.3" cy="405.0" r="1.85"/>
<circle cx="264.5" cy="390.8" r="1.85"/>
<circle cx="264.5" cy="400.9" r="1.85"/>
<circle cx="264.3" cy="395.8" r="1.85"/>
<circle cx="264.1" cy="394.5" r="1.85"/>
<circle cx="264.1" cy="399.7" r="1.85"/>
<circle cx="264.4" cy="426.8" r="1.85"/>
<circle cx="264.3" cy="416.3" r="1.85"/>
<circle cx="264.3" cy="382.0" r="1.85"/>
<circle cx="264.3" cy="406.8" r="1.85"/>
<circle cx="264.4" cy="392.5" r="1.85"/>
<circle cx="264.3" cy="420.4" r="1.85"/>
<circle cx="264.2" cy="411.6" r="1.85"/>
<circle cx="264.3" cy="379.0" r="1.85"/>
<circle cx="264.4" cy="392.1" r="1.85"/>
<circle cx="264.3" cy="370.3" r="1.85"/>
<circle cx="264.3" cy="389.0" r="1.85"/>
<circle cx="264.4" cy="395.2" r="1.85"/>
<circle cx="264.3" cy="398.9" r="1.85"/>
<circle cx="264.5" cy="397.3" r="1.85"/>
<circle cx="264.5" cy="383.6" r="1.85"/>
<circle cx="264.2" cy="368.5" r="1.85"/>
<circle cx="264.5" cy="392.2" r="1.85"/>
<circle cx="264.1" cy="374.8" r="1.85"/>
<circle cx="264.3" cy="419.4" r="1.85"/>
<circle cx="264.2" cy="422.5" r="1.85"/>
<circle cx="264.4" cy="422.5" r="1.85"/>
<circle cx="264.5" cy="378.3" r="1.85"/>
<circle cx="264.4" cy="417.4" r="1.85"/>
<circle cx="264.1" cy="386.0" r="1.85"/>
<circle cx="264.5" cy="372.2" r="1.85"/>
<circle cx="264.5" cy="413.4" r="1.85"/>
<circle cx="264.3" cy="402.3" r="1.85"/>
<circle cx="264.5" cy="365.5" r="1.85"/>
<circle cx="264.3" cy="417.0" r="1.85"/>
<circle cx="264.2" cy="395.0" r="1.85"/>
<circle cx="264.2" cy="414.8" r="1.85"/>
<circle cx="264.1" cy="382.1" r="1.85"/>
<circle cx="264.3" cy="392.6" r="1.85"/>
<circle cx="264.2" cy="425.9" r="1.85"/>
<circle cx="264.3" cy="388.2" r="1.85"/>
<circle cx="264.5" cy="423.0" r="1.85"/>
<circle cx="264.5" cy="378.0" r="1.85"/>
<circle cx="264.2" cy="420.5" r="1.85"/>
<circle cx="264.4" cy="424.5" r="1.85"/>
<circle cx="264.1" cy="410.2" r="1.85"/>
<circle cx="264.5" cy="400.8" r="1.85"/>
<circle cx="264.2" cy="376.1" r="1.85"/>
<circle cx="264.5" cy="417.7" r="1.85"/>
<circle cx="264.4" cy="391.6" r="1.85"/>
<circle cx="264.1" cy="421.4" r="1.85"/>
<circle cx="264.3" cy="384.3" r="1.85"/>
<circle cx="264.5" cy="422.5" r="1.85"/>
<circle cx="264.5" cy="387.6" r="1.85"/>
<circle cx="264.5" cy="421.8" r="1.85"/>
<circle cx="264.5" cy="422.9" r="1.85"/>
<circle cx="264.2" cy="398.8" r="1.85"/>
<circle cx="264.5" cy="392.6" r="1.85"/>
<circle cx="264.1" cy="410.4" r="1.85"/>
<circle cx="264.2" cy="394.3" r="1.85"/>
<circle cx="264.1" cy="420.2" r="1.85"/>
<circle cx="264.2" cy="423.9" r="1.85"/>
<circle cx="264.2" cy="407.6" r="1.85"/>
<circle cx="264.2" cy="379.8" r="1.85"/>
<circle cx="264.1" cy="395.9" r="1.85"/>
<circle cx="264.1" cy="405.4" r="1.85"/>
<circle cx="264.1" cy="411.4" r="1.85"/>
<circle cx="264.3" cy="381.5" r="1.85"/>
<circle cx="264.3" cy="415.2" r="1.85"/>
<circle cx="264.1" cy="368.9" r="1.85"/>
<circle cx="264.3" cy="376.1" r="1.85"/>
<circle cx="264.5" cy="396.3" r="1.85"/>
<circle cx="264.3" cy="402.6" r="1.85"/>
<circle cx="264.5" cy="384.3" r="1.85"/>
<circle cx="264.5" cy="405.7" r="1.85"/>
<circle cx="264.4" cy="383.1" r="1.85"/>
<circle cx="264.2" cy="401.9" r="1.85"/>
<circle cx="264.1" cy="423.6" r="1.85"/>
<circle cx="264.4" cy="422.6" r="1.85"/>
<circle cx="264.1" cy="411.1" r="1.85"/>
<circle cx="264.5" cy="421.8" r="1.85"/>
<circle cx="264.4" cy="372.9" r="1.85"/>
<circle cx="264.2" cy="409.5" r="1.85"/>
<circle cx="264.3" cy="408.8" r="1.85"/>
<circle cx="264.3" cy="417.2" r="1.85"/>
<circle cx="264.5" cy="410.6" r="1.85"/>
<circle cx="264.3" cy="366.6" r="1.85"/>
<circle cx="264.5" cy="411.8" r="1.85"/>
<circle cx="264.2" cy="407.8" r="1.85"/>
<circle cx="264.2" cy="426.9" r="1.85"/>
<circle cx="264.3" cy="397.5" r="1.85"/>
<circle cx="264.3" cy="414.5" r="1.85"/>
<circle cx="264.2" cy="426.7" r="1.85"/>
<circle cx="264.2" cy="421.4" r="1.85"/>
<circle cx="264.1" cy="424.4" r="1.85"/>
<circle cx="264.2" cy="408.1" r="1.85"/>
<circle cx="264.3" cy="390.6" r="1.85"/>
<circle cx="264.4" cy="380.4" r="1.85"/>
<circle cx="264.5" cy="382.5" r="1.85"/>
<circle cx="264.2" cy="402.8" r="1.85"/>
<circle cx="264.1" cy="365.8" r="1.85"/>
<circle cx="264.4" cy="382.0" r="1.85"/>
<circle cx="264.5" cy="424.3" r="1.85"/>
<circle cx="264.4" cy="371.6" r="1.85"/>
<circle cx="264.5" cy="381.4" r="1.85"/>
<circle cx="264.3" cy="418.3" r="1.85"/>
<circle cx="264.5" cy="395.7" r="1.85"/>
<circle cx="264.5" cy="377.0" r="1.85"/>
<circle cx="264.5" cy="390.7" r="1.85"/>
<circle cx="264.4" cy="384.6" r="1.85"/>
<circle cx="264.1" cy="412.7" r="1.85"/>
<circle cx="264.2" cy="418.7" r="1.85"/>
<circle cx="264.5" cy="420.5" r="1.85"/>
<circle cx="264.4" cy="392.3" r="1.85"/>
<circle cx="264.4" cy="388.1" r="1.85"/>
<circle cx="264.1" cy="396.6" r="1.85"/>
<circle cx="264.4" cy="377.4" r="1.85"/>
<circle cx="264.3" cy="395.8" r="1.85"/>
<circle cx="264.1" cy="386.0" r="1.85"/>
<circle cx="264.2" cy="381.2" r="1.85"/>
<circle cx="264.2" cy="422.4" r="1.85"/>
<circle cx="264.2" cy="381.7" r="1.85"/>
<circle cx="264.5" cy="381.0" r="1.85"/>
<circle cx="264.2" cy="396.3" r="1.85"/>
<circle cx="264.4" cy="397.2" r="1.85"/>
<circle cx="264.4" cy="379.4" r="1.85"/>
<circle cx="264.1" cy="387.1" r="1.85"/>
<circle cx="264.2" cy="417.8" r="1.85"/>
<circle cx="264.2" cy="380.8" r="1.85"/>
<circle cx="264.1" cy="391.7" r="1.85"/>
<circle cx="264.2" cy="423.2" r="1.85"/>
<circle cx="264.4" cy="385.3" r="1.85"/>
<circle cx="264.2" cy="385.0" r="1.85"/>
<circle cx="264.3" cy="394.9" r="1.85"/>
<circle cx="264.1" cy="398.0" r="1.85"/>
<circle cx="264.1" cy="371.5" r="1.85"/>
<circle cx="264.5" cy="366.2" r="1.85"/>
<circle cx="264.3" cy="425.9" r="1.85"/>
<circle cx="264.5" cy="376.1" r="1.85"/>
<circle cx="264.2" cy="399.1" r="1.85"/>
<circle cx="264.5" cy="414.0" r="1.85"/>
<circle cx="264.3" cy="413.9" r="1.85"/>
<circle cx="264.3" cy="418.2" r="1.85"/>
<circle cx="264.1" cy="367.8" r="1.85"/>
<circle cx="264.3" cy="376.0" r="1.85"/>
<circle cx="264.4" cy="371.9" r="1.85"/>
<circle cx="264.5" cy="412.6" r="1.85"/>
<circle cx="264.1" cy="396.8" r="1.85"/>
<circle cx="264.3" cy="426.8" r="1.85"/>
<circle cx="264.2" cy="399.0" r="1.85"/>
<circle cx="264.2" cy="418.3" r="1.85"/>
<circle cx="264.5" cy="407.4" r="1.85"/>
<circle cx="264.4" cy="426.9" r="1.85"/>
<circle cx="264.1" cy="374.9" r="1.85"/>
<circle cx="264.4" cy="369.5" r="1.85"/>
<circle cx="264.2" cy="371.0" r="1.85"/>
<circle cx="264.2" cy="403.9" r="1.85"/>
<circle cx="264.3" cy="365.0" r="1.85"/>
<circle cx="264.3" cy="404.6" r="1.85"/>
<circle cx="264.1" cy="409.9" r="1.85"/>
<circle cx="264.5" cy="420.7" r="1.85"/>
<circle cx="264.5" cy="409.3" r="1.85"/>
<circle cx="264.2" cy="411.5" r="1.85"/>
<circle cx="264.1" cy="395.3" r="1.85"/>
<circle cx="264.5" cy="403.8" r="1.85"/>
<circle cx="264.5" cy="372.1" r="1.85"/>
<circle cx="264.5" cy="387.8" r="1.85"/>
<circle cx="264.3" cy="368.6" r="1.85"/>
<circle cx="264.1" cy="382.3" r="1.85"/>
<circle cx="264.3" cy="381.5" r="1.85"/>
<circle cx="264.4" cy="380.2" r="1.85"/>
<circle cx="264.1" cy="409.2" r="1.85"/>
<circle cx="264.1" cy="369.4" r="1.85"/>
<circle cx="264.2" cy="397.7" r="1.85"/>
<circle cx="264.4" cy="408.5" r="1.85"/>
<circle cx="264.2" cy="366.4" r="1.85"/>
<circle cx="264.2" cy="386.3" r="1.85"/>
<circle cx="264.2" cy="392.4" r="1.85"/>
<circle cx="264.1" cy="416.6" r="1.85"/>
<circle cx="264.5" cy="414.1" r="1.85"/>
<circle cx="264.2" cy="396.1" r="1.85"/>
<circle cx="264.5" cy="370.7" r="1.85"/>
<circle cx="264.1" cy="399.0" r="1.85"/>
<circle cx="264.1" cy="415.0" r="1.85"/>
<circle cx="264.1" cy="405.8" r="1.85"/>
<circle cx="264.2" cy="412.1" r="1.85"/>
<circle cx="264.5" cy="391.6" r="1.85"/>
<circle cx="264.3" cy="380.4" r="1.85"/>
<circle cx="264.3" cy="401.3" r="1.85"/>
<circle cx="264.2" cy="403.6" r="1.85"/>
<circle cx="264.2" cy="423.1" r="1.85"/>
<circle cx="264.1" cy="366.9" r="1.85"/>
<circle cx="264.4" cy="395.7" r="1.85"/>
<circle cx="264.2" cy="373.4" r="1.85"/>
<circle cx="264.2" cy="410.2" r="1.85"/>
<circle cx="264.3" cy="402.2" r="1.85"/>
<circle cx="264.5" cy="367.7" r="1.85"/>
<circle cx="264.1" cy="372.8" r="1.85"/>
<circle cx="264.4" cy="425.0" r="1.85"/>
<circle cx="264.3" cy="371.4" r="1.85"/>
<circle cx="264.1" cy="390.5" r="1.85"/>
<circle cx="264.5" cy="402.7" r="1.85"/>
<circle cx="264.5" cy="375.7" r="1.85"/>
<circle cx="264.2" cy="366.6" r="1.85"/>
<circle cx="264.1" cy="420.2" r="1.85"/>
<circle cx="264.4" cy="394.6" r="1.85"/>
<circle cx="264.4" cy="368.5" r="1.85"/>
<circle cx="264.4" cy="386.8" r="1.85"/>
<circle cx="264.3" cy="398.6" r="1.85"/>
<circle cx="264.4" cy="424.5" r="1.85"/>
<circle cx="264.5" cy="412.6" r="1.85"/>
<circle cx="264.2" cy="386.9" r="1.85"/>
<circle cx="264.2" cy="419.1" r="1.85"/>
<circle cx="264.4" cy="387.5" r="1.85"/>
<circle cx="264.1" cy="420.0" r="1.85"/>
<circle cx="264.3" cy="394.4" r="1.85"/>
<circle cx="264.2" cy="402.9" r="1.85"/>
<circle cx="264.1" cy="389.7" r="1.85"/>
<circle cx="264.3" cy="408.3" r="1.85"/>
<circle cx="264.4" cy="367.4" r="1.85"/>
<circle cx="264.3" cy="372.1" r="1.85"/>
<circle cx="264.2" cy="412.4" r="1.85"/>
<circle cx="264.4" cy="367.3" r="1.85"/>
<circle cx="264.1" cy="407.9" r="1.85"/>
<circle cx="264.4" cy="396.0" r="1.85"/>
<circle cx="264.2" cy="400.9" r="1.85"/>
<circle cx="264.5" cy="385.5" r="1.85"/>
<circle cx="264.1" cy="412.9" r="1.85"/>
<circle cx="264.3" cy="406.0" r="1.85"/>
<circle cx="264.1" cy="384.6" r="1.85"/>
<circle cx="264.4" cy="377.5" r="1.85"/>
<circle cx="264.2" cy="395.6" r="1.85"/>
<circle cx="264.2" cy="366.8" r="1.85"/>
<circle cx="264.2" cy="376.1" r="1.85"/>
<circle cx="264.4" cy="413.2" r="1.85"/>
<circle cx="264.5" cy="408.7" r="1.85"/>
<circle cx="264.1" cy="396.2" r="1.85"/>
<circle cx="264.3" cy="413.1" r="1.85"/>
<circle cx="264.5" cy="385.7" r="1.85"/>
<circle cx="264.2" cy="417.9" r="1.85"/>
<circle cx="264.5" cy="413.8" r="1.85"/>
<circle cx="264.1" cy="418.2" r="1.85"/>
<circle cx="264.2" cy="423.3" r="1.85"/>
<circle cx="264.5" cy="371.2" r="1.85"/>
<circle cx="264.5" cy="381.5" r="1.85"/>
<circle cx="264.2" cy="369.1" r="1.85"/>
<circle cx="264.5" cy="415.5" r="1.85"/>
<circle cx="264.1" cy="380.6" r="1.85"/>
<circle cx="264.2" cy="385.7" r="1.85"/>
<circle cx="264.2" cy="403.8" r="1.85"/>
<circle cx="264.1" cy="416.5" r="1.85"/>
<circle cx="264.2" cy="409.6" r="1.85"/>
<circle cx="264.1" cy="367.6" r="1.85"/>
<circle cx="264.2" cy="367.1" r="1.85"/>
<circle cx="264.5" cy="404.8" r="1.85"/>
<circle cx="264.3" cy="375.9" r="1.85"/>
<circle cx="264.3" cy="423.9" r="1.85"/>
<circle cx="264.5" cy="403.8" r="1.85"/>
<circle cx="264.2" cy="415.0" r="1.85"/>
<circle cx="264.1" cy="371.3" r="1.85"/>
<circle cx="264.5" cy="401.5" r="1.85"/>
<circle cx="264.1" cy="379.4" r="1.85"/>
<circle cx="264.1" cy="424.8" r="1.85"/>
<circle cx="264.2" cy="369.8" r="1.85"/>
<circle cx="264.5" cy="380.6" r="1.85"/>
<circle cx="264.2" cy="405.9" r="1.85"/>
<circle cx="264.4" cy="367.5" r="1.85"/>
<circle cx="264.4" cy="410.7" r="1.85"/>
<circle cx="264.2" cy="407.3" r="1.85"/>
<circle cx="264.4" cy="426.8" r="1.85"/>
<circle cx="264.4" cy="370.1" r="1.85"/>
<circle cx="264.1" cy="368.4" r="1.85"/>
<circle cx="264.3" cy="412.5" r="1.85"/>
<circle cx="264.5" cy="367.6" r="1.85"/>
<circle cx="264.2" cy="403.0" r="1.85"/>
<circle cx="264.3" cy="400.3" r="1.85"/>
<circle cx="264.1" cy="369.3" r="1.85"/>
<circle cx="264.4" cy="377.1" r="1.85"/>
<circle cx="264.4" cy="375.9" r="1.85"/>
<circle cx="264.2" cy="389.3" r="1.85"/>
<circle cx="264.2" cy="407.2" r="1.85"/>
<circle cx="264.1" cy="378.4" r="1.85"/>
<circle cx="264.4" cy="414.7" r="1.85"/>
<circle cx="264.1" cy="411.6" r="1.85"/>
<circle cx="264.3" cy="424.9" r="1.85"/>
<circle cx="264.5" cy="406.8" r="1.85"/>
<circle cx="264.5" cy="372.1" r="1.85"/>
<circle cx="264.1" cy="410.5" r="1.85"/>
<circle cx="264.3" cy="421.0" r="1.85"/>
<circle cx="264.3" cy="382.9" r="1.85"/>
<circle cx="264.3" cy="412.5" r="1.85"/>
<circle cx="264.4" cy="388.5" r="1.85"/>
<circle cx="264.5" cy="380.5" r="1.85"/>
<circle cx="264.1" cy="385.7" r="1.85"/>
<circle cx="264.2" cy="374.8" r="1.85"/>
<circle cx="264.2" cy="391.8" r="1.85"/>
<circle cx="264.1" cy="381.2" r="1.85"/>
<circle cx="264.2" cy="411.6" r="1.85"/>
<circle cx="264.5" cy="417.5" r="1.85"/>
<circle cx="264.2" cy="391.1" r="1.85"/>
<circle cx="264.5" cy="402.4" r="1.85"/>
<circle cx="264.2" cy="395.5" r="1.85"/>
<circle cx="264.4" cy="376.8" r="1.85"/>
<circle cx="264.1" cy="365.4" r="1.85"/>
<circle cx="264.5" cy="397.5" r="1.85"/>
<circle cx="264.5" cy="374.8" r="1.85"/>
<circle cx="264.2" cy="424.5" r="1.85"/>
<circle cx="264.1" cy="419.6" r="1.85"/>
<circle cx="264.3" cy="366.6" r="1.85"/>
<circle cx="264.2" cy="369.2" r="1.85"/>
<circle cx="264.3" cy="373.2" r="1.85"/>
<circle cx="264.4" cy="410.9" r="1.85"/>
<circle cx="264.1" cy="368.3" r="1.85"/>
<circle cx="264.4" cy="390.0" r="1.85"/>
<circle cx="264.2" cy="413.5" r="1.85"/>
<circle cx="264.2" cy="418.2" r="1.85"/>
<circle cx="264.3" cy="411.2" r="1.85"/>
<circle cx="264.2" cy="386.5" r="1.85"/>
<circle cx="264.2" cy="426.3" r="1.85"/>
<circle cx="264.1" cy="384.9" r="1.85"/>
<circle cx="264.2" cy="407.6" r="1.85"/>
<circle cx="264.3" cy="377.6" r="1.85"/>
<circle cx="264.1" cy="423.1" r="1.85"/>
<circle cx="264.3" cy="402.4" r="1.85"/>
<circle cx="264.1" cy="387.3" r="1.85"/>
<circle cx="264.4" cy="416.8" r="1.85"/>
<circle cx="264.2" cy="401.5" r="1.85"/>
<circle cx="264.5" cy="407.9" r="1.85"/>
<circle cx="264.3" cy="407.6" r="1.85"/>
<circle cx="264.3" cy="404.8" r="1.85"/>
<circle cx="264.5" cy="373.3" r="1.85"/>
<circle cx="264.1" cy="404.4" r="1.85"/>
<circle cx="264.2" cy="381.8" r="1.85"/>
<circle cx="264.5" cy="426.6" r="1.85"/>
<circle cx="264.5" cy="400.7" r="1.85"/>
<circle cx="264.5" cy="401.8" r="1.85"/>
<circle cx="264.1" cy="398.4" r="1.85"/>
<circle cx="264.3" cy="426.1" r="1.85"/>
<circle cx="264.5" cy="387.2" r="1.85"/>
<circle cx="264.4" cy="421.5" r="1.85"/>
<circle cx="264.3" cy="404.0" r="1.85"/>
<circle cx="264.2" cy="417.9" r="1.85"/>
<circle cx="264.5" cy="394.6" r="1.85"/>
<circle cx="264.3" cy="420.2" r="1.85"/>
<circle cx="264.5" cy="377.0" r="1.85"/>
<circle cx="264.1" cy="414.7" r="1.85"/>
<circle cx="264.5" cy="368.4" r="1.85"/>
<circle cx="264.1" cy="397.0" r="1.85"/>
<circle cx="264.2" cy="369.5" r="1.85"/>
<circle cx="264.4" cy="370.8" r="1.85"/>
<circle cx="264.1" cy="375.8" r="1.85"/>
<circle cx="264.2" cy="378.2" r="1.85"/>
<circle cx="264.5" cy="401.9" r="1.85"/>
<circle cx="264.1" cy="375.5" r="1.85"/>
<circle cx="264.2" cy="413.4" r="1.85"/>
<circle cx="264.2" cy="394.8" r="1.85"/>
<circle cx="264.2" cy="419.4" r="1.85"/>
<circle cx="264.5" cy="382.0" r="1.85"/>
<circle cx="264.3" cy="424.4" r="1.85"/>
<circle cx="264.1" cy="379.9" r="1.85"/>
<circle cx="264.1" cy="374.9" r="1.85"/>
<circle cx="264.3" cy="389.8" r="1.85"/>
<circle cx="264.2" cy="388.0" r="1.85"/>
<circle cx="264.3" cy="400.9" r="1.85"/>
<circle cx="264.4" cy="400.6" r="1.85"/>
<circle cx="264.3" cy="399.2" r="1.85"/>
<circle cx="264.4" cy="425.5" r="1.85"/>
<circle cx="264.2" cy="396.6" r="1.85"/>
<circle cx="264.4" cy="379.6" r="1.85"/>
<circle cx="264.1" cy="398.5" r="1.85"/>
<circle cx="264.1" cy="397.6" r="1.85"/>
<circle cx="264.3" cy="419.0" r="1.85"/>
<circle cx="264.3" cy="421.3" r="1.85"/>
<circle cx="264.1" cy="395.3" r="1.85"/>
<circle cx="264.1" cy="387.5" r="1.85"/>
<circle cx="264.4" cy="381.4" r="1.85"/>
<circle cx="264.1" cy="395.2" r="1.85"/>
<circle cx="264.2" cy="395.7" r="1.85"/>
<circle cx="264.1" cy="367.9" r="1.85"/>
<circle cx="264.5" cy="373.8" r="1.85"/>
<circle cx="264.5" cy="381.5" r="1.85"/>
<circle cx="264.5" cy="415.0" r="1.85"/>
<circle cx="264.5" cy="396.4" r="1.85"/>
<circle cx="264.1" cy="370.1" r="1.85"/>
<circle cx="264.5" cy="378.0" r="1.85"/>
<circle cx="264.2" cy="422.9" r="1.85"/>
<circle cx="264.1" cy="380.0" r="1.85"/>
<circle cx="264.2" cy="371.3" r="1.85"/>
<circle cx="264.1" cy="419.8" r="1.85"/>
<circle cx="264.6" cy="422.5" r="1.85"/>
<circle cx="264.2" cy="425.2" r="1.85"/>
<circle cx="264.2" cy="422.5" r="1.85"/>
<circle cx="264.1" cy="426.7" r="1.85"/>
<circle cx="264.6" cy="425.6" r="1.85"/>
<circle cx="264.5" cy="421.0" r="1.85"/>
<circle cx="264.5" cy="425.5" r="1.85"/>
<circle cx="264.3" cy="426.0" r="1.85"/>
<circle cx="264.2" cy="421.4" r="1.85"/>
<circle cx="264.3" cy="419.3" r="1.85"/>
<circle cx="264.5" cy="421.9" r="1.85"/>
<circle cx="264.6" cy="426.1" r="1.85"/>
<circle cx="264.2" cy="421.4" r="1.85"/>
<circle cx="264.2" cy="419.9" r="1.85"/>
<circle cx="264.3" cy="418.2" r="1.85"/>
<circle cx="264.5" cy="423.8" r="1.85"/>
<circle cx="264.1" cy="423.1" r="1.85"/>
<circle cx="264.0" cy="420.4" r="1.85"/>
<circle cx="264.2" cy="419.7" r="1.85"/>
<circle cx="264.6" cy="421.3" r="1.85"/>
<circle cx="264.4" cy="421.8" r="1.85"/>
<circle cx="264.0" cy="424.2" r="1.85"/>
<circle cx="264.1" cy="426.7" r="1.85"/>
<circle cx="264.3" cy="421.5" r="1.85"/>
<circle cx="264.5" cy="422.5" r="1.85"/>
<circle cx="264.1" cy="425.8" r="1.85"/>
<circle cx="264.0" cy="421.2" r="1.85"/>
<circle cx="264.2" cy="427.0" r="1.85"/>
<circle cx="264.2" cy="426.1" r="1.85"/>
<circle cx="264.4" cy="425.0" r="1.85"/>
<circle cx="264.1" cy="421.8" r="1.85"/>
<circle cx="264.3" cy="421.5" r="1.85"/>
<circle cx="264.6" cy="425.8" r="1.85"/>
<circle cx="264.1" cy="424.8" r="1.85"/>
<circle cx="264.4" cy="426.1" r="1.85"/>
<circle cx="264.5" cy="419.3" r="1.85"/>
<circle cx="264.2" cy="423.4" r="1.85"/>
<circle cx="264.4" cy="426.9" r="1.85"/>
<circle cx="264.2" cy="422.0" r="1.85"/>
<circle cx="263.8" cy="279.1" r="1.85"/>
<circle cx="270.2" cy="279.1" r="1.85"/>
<circle cx="290.0" cy="279.1" r="1.85"/>
<circle cx="304.0" cy="279.1" r="1.85"/>
<circle cx="308.4" cy="279.1" r="1.85"/>
<circle cx="319.8" cy="279.1" r="1.85"/>
<circle cx="328.6" cy="279.1" r="1.85"/>
<circle cx="332.4" cy="279.1" r="1.85"/>
<circle cx="336.8" cy="279.1" r="1.85"/>
<circle cx="341.1" cy="279.1" r="1.85"/>
<circle cx="345.5" cy="279.1" r="1.85"/>
<circle cx="361.6" cy="279.1" r="1.85"/>
<circle cx="366.8" cy="279.1" r="1.85"/>
<circle cx="366.8" cy="279.1" r="1.85"/>
<circle cx="366.8" cy="279.1" r="1.85"/>
<circle cx="366.8" cy="279.1" r="1.85"/>
<circle cx="366.8" cy="279.1" r="1.85"/>
<circle cx="371.8" cy="279.1" r="1.85"/>
<circle cx="376.2" cy="279.1" r="1.85"/>
<circle cx="380.5" cy="279.1" r="1.85"/>
<circle cx="384.0" cy="279.1" r="1.85"/>
<circle cx="387.8" cy="279.1" r="1.85"/>
<circle cx="391.0" cy="279.1" r="1.85"/>
<circle cx="394.6" cy="279.1" r="1.85"/>
<circle cx="398.0" cy="279.1" r="1.85"/>
<circle cx="402.4" cy="279.1" r="1.85"/>
<circle cx="402.4" cy="279.1" r="1.85"/>
<circle cx="402.4" cy="279.1" r="1.85"/>
<circle cx="402.4" cy="279.1" r="1.85"/>
<circle cx="402.4" cy="279.1" r="1.85"/>
<circle cx="402.4" cy="279.1" r="1.85"/>
<circle cx="404.0" cy="279.1" r="1.85"/>
<circle cx="406.8" cy="279.1" r="1.85"/>
<circle cx="409.0" cy="279.1" r="1.85"/>
<circle cx="412.7" cy="279.1" r="1.85"/>
<circle cx="415.0" cy="279.1" r="1.85"/>
<circle cx="418.5" cy="279.1" r="1.85"/>
<circle cx="421.0" cy="279.1" r="1.85"/>
<circle cx="424.3" cy="279.1" r="1.85"/>
<circle cx="427.0" cy="279.1" r="1.85"/>
<circle cx="430.2" cy="279.1" r="1.85"/>
<circle cx="432.0" cy="279.1" r="1.85"/>
<circle cx="434.0" cy="279.1" r="1.85"/>
<circle cx="435.4" cy="279.1" r="1.85"/>
<circle cx="436.0" cy="279.1" r="1.85"/>
<circle cx="436.0" cy="279.1" r="1.85"/>
<circle cx="436.0" cy="279.1" r="1.85"/>
<circle cx="436.0" cy="279.1" r="1.85"/>
<circle cx="436.0" cy="279.1" r="1.85"/>
<circle cx="436.0" cy="279.1" r="1.85"/>
<circle cx="436.0" cy="279.1" r="1.85"/>
<circle cx="436.0" cy="279.1" r="1.85"/>
<circle cx="400.0" cy="279.1" r="1.85"/>
<circle cx="404.0" cy="279.1" r="1.85"/>
<circle cx="408.0" cy="279.1" r="1.85"/>
<circle cx="412.0" cy="279.1" r="1.85"/>
<circle cx="416.0" cy="279.1" r="1.85"/>
<circle cx="420.0" cy="279.1" r="1.85"/>
<circle cx="424.0" cy="279.1" r="1.85"/>
<circle cx="428.0" cy="279.1" r="1.85"/>
<circle cx="432.0" cy="279.1" r="1.85"/>
<circle cx="386.0" cy="279.1" r="1.85"/>
<circle cx="391.0" cy="279.1" r="1.85"/>
<circle cx="396.0" cy="279.1" r="1.85"/>
<circle cx="368.0" cy="279.1" r="1.85"/>
<circle cx="369.0" cy="279.1" r="1.85"/>
<circle cx="398.0" cy="279.1" r="1.85"/>
<circle cx="400.0" cy="279.1" r="1.85"/>
<circle cx="402.0" cy="279.1" r="1.85"/>
<circle cx="404.0" cy="279.1" r="1.85"/>
<circle cx="406.0" cy="279.1" r="1.85"/>
<circle cx="408.0" cy="279.1" r="1.85"/>
<circle cx="410.0" cy="279.1" r="1.85"/>
<circle cx="412.0" cy="279.1" r="1.85"/>
<circle cx="414.0" cy="279.1" r="1.85"/>
<circle cx="416.0" cy="279.1" r="1.85"/>
<circle cx="418.0" cy="279.1" r="1.85"/>
<circle cx="420.0" cy="279.1" r="1.85"/>
<circle cx="422.0" cy="279.1" r="1.85"/>
<circle cx="424.0" cy="279.1" r="1.85"/>
<circle cx="426.0" cy="279.1" r="1.85"/>
<circle cx="428.0" cy="279.1" r="1.85"/>
<circle cx="430.0" cy="279.1" r="1.85"/>
<circle cx="432.0" cy="279.1" r="1.85"/>
<circle cx="434.0" cy="279.1" r="1.85"/>
<circle cx="399.0" cy="279.1" r="1.85"/>
<circle cx="402.0" cy="279.1" r="1.85"/>
<circle cx="405.0" cy="279.1" r="1.85"/>
<circle cx="408.0" cy="279.1" r="1.85"/>
<circle cx="411.0" cy="279.1" r="1.85"/>
<circle cx="414.0" cy="279.1" r="1.85"/>
<circle cx="417.0" cy="279.1" r="1.85"/>
<circle cx="420.0" cy="279.1" r="1.85"/>
<circle cx="423.0" cy="279.1" r="1.85"/>
<circle cx="426.0" cy="279.1" r="1.85"/>
<circle cx="429.0" cy="279.1" r="1.85"/>
<circle cx="432.0" cy="279.1" r="1.85"/>
<circle cx="263.8" cy="284.0" r="1.85"/>
<circle cx="367.4" cy="284.0" r="1.85"/>
<circle cx="424.3" cy="284.0" r="1.85"/>
<circle cx="436.0" cy="284.0" r="1.85"/>
<circle cx="436.0" cy="282.0" r="1.85"/>
<circle cx="269.0" cy="427.0" r="1.85"/>
<circle cx="272.0" cy="427.0" r="1.85"/>
<circle cx="275.0" cy="427.0" r="1.85"/>
<circle cx="279.4" cy="427.0" r="1.85"/>
<circle cx="290.5" cy="427.0" r="1.85"/>
<circle cx="291.9" cy="427.0" r="1.85"/>
<circle cx="296.5" cy="427.0" r="1.85"/>
<circle cx="297.9" cy="427.0" r="1.85"/>
<circle cx="297.9" cy="427.0" r="1.85"/>
<circle cx="301.9" cy="427.0" r="1.85"/>
<circle cx="311.5" cy="427.0" r="1.85"/>
<circle cx="323.9" cy="427.0" r="1.85"/>
<circle cx="326.9" cy="427.0" r="1.85"/>
<circle cx="330.8" cy="427.0" r="1.85"/>
<circle cx="332.8" cy="427.0" r="1.85"/>
<circle cx="334.4" cy="427.0" r="1.85"/>
<circle cx="337.8" cy="427.0" r="1.85"/>
<circle cx="342.8" cy="427.0" r="1.85"/>
<circle cx="350.8" cy="427.0" r="1.85"/>
<circle cx="352.8" cy="427.0" r="1.85"/>
<circle cx="361.2" cy="427.0" r="1.85"/>
<circle cx="367.0" cy="427.0" r="1.85"/>
<circle cx="368.1" cy="427.0" r="1.85"/>
<circle cx="376.3" cy="427.0" r="1.85"/>
<circle cx="381.6" cy="427.0" r="1.85"/>
<circle cx="419.5" cy="427.0" r="1.85"/>
<circle cx="267.0" cy="427.0" r="1.85"/>
<circle cx="268.0" cy="427.0" r="1.85"/>
<circle cx="266.0" cy="427.0" r="1.85"/>
<circle cx="367.2" cy="284.3" r="1.85"/>
<circle cx="424.0" cy="284.3" r="1.85"/>
<circle cx="435.8" cy="284.3" r="1.85"/>
<circle cx="296.7" cy="288.0" r="1.85"/>
<circle cx="346.3" cy="293.2" r="1.85"/>
<circle cx="268.1" cy="304.5" r="1.85"/>
<circle cx="278.5" cy="305.0" r="1.85"/>
<circle cx="271.5" cy="308.3" r="1.85"/>
<circle cx="274.7" cy="310.3" r="1.85"/>
<circle cx="294.5" cy="310.3" r="1.85"/>
<circle cx="298.7" cy="315.7" r="1.85"/>
<circle cx="307.4" cy="316.6" r="1.85"/>
<circle cx="337.0" cy="313.7" r="1.85"/>
<circle cx="300.0" cy="321.6" r="1.85"/>
<circle cx="299.0" cy="324.6" r="1.85"/>
<circle cx="331.0" cy="323.8" r="1.85"/>
<circle cx="275.5" cy="328.0" r="1.85"/>
<circle cx="278.2" cy="330.2" r="1.85"/>
<circle cx="301.6" cy="330.0" r="1.85"/>
<circle cx="269.6" cy="336.7" r="1.85"/>
<circle cx="298.7" cy="340.3" r="1.85"/>
<circle cx="267.6" cy="342.6" r="1.85"/>
<circle cx="292.3" cy="345.6" r="1.85"/>
<circle cx="292.9" cy="352.6" r="1.85"/>
<circle cx="295.9" cy="368.0" r="1.85"/>
<circle cx="298.5" cy="370.0" r="1.85"/>
<circle cx="304.9" cy="369.4" r="1.85"/>
<circle cx="316.9" cy="370.0" r="1.85"/>
<circle cx="332.8" cy="373.0" r="1.85"/>
<circle cx="345.2" cy="377.3" r="1.85"/>
<circle cx="298.5" cy="376.0" r="1.85"/>
<circle cx="295.5" cy="380.3" r="1.85"/>
<circle cx="327.9" cy="387.9" r="1.85"/>
<circle cx="331.8" cy="390.5" r="1.85"/>
<circle cx="341.4" cy="394.9" r="1.85"/>
<circle cx="291.3" cy="399.3" r="1.85"/>
<circle cx="296.9" cy="398.5" r="1.85"/>
<circle cx="304.5" cy="396.5" r="1.85"/>
<circle cx="274.0" cy="403.9" r="1.85"/>
<circle cx="277.0" cy="406.9" r="1.85"/>
<circle cx="283.0" cy="408.5" r="1.85"/>
<circle cx="284.5" cy="410.5" r="1.85"/>
<circle cx="298.5" cy="404.9" r="1.85"/>
<circle cx="296.5" cy="410.3" r="1.85"/>
<circle cx="323.3" cy="404.9" r="1.85"/>
<circle cx="269.0" cy="415.9" r="1.85"/>
<circle cx="271.0" cy="415.9" r="1.85"/>
<circle cx="297.3" cy="418.9" r="1.85"/>
<circle cx="297.3" cy="420.4" r="1.85"/>
<circle cx="297.8" cy="427.0" r="1.85"/>
<circle cx="332.8" cy="414.0" r="1.85"/>
<circle cx="309.9" cy="417.9" r="1.85"/>
<circle cx="329.9" cy="421.8" r="1.85"/>
<circle cx="323.9" cy="424.8" r="1.85"/>
<circle cx="361.2" cy="331.9" r="1.85"/>
<circle cx="401.3" cy="343.9" r="1.85"/>
<circle cx="430.2" cy="338.8" r="1.85"/>
<circle cx="435.3" cy="350.1" r="1.85"/>
<circle cx="402.9" cy="360.1" r="1.85"/>
<circle cx="372.1" cy="370.5" r="1.85"/>
<circle cx="356.6" cy="375.1" r="1.85"/>
<circle cx="436.0" cy="381.6" r="1.85"/>
<circle cx="395.5" cy="405.2" r="1.85"/>
<circle cx="394.8" cy="415.2" r="1.85"/>
<circle cx="356.6" cy="420.3" r="1.85"/>
<circle cx="360.5" cy="423.8" r="1.85"/>
<circle cx="351.9" cy="425.4" r="1.85"/>
<circle cx="361.5" cy="293.9" r="1.85"/>
<circle cx="392.9" cy="289.8" r="1.85"/>
<circle cx="401.8" cy="289.3" r="1.85"/>
<circle cx="435.8" cy="308.3" r="1.85"/>
<circle cx="380.0" cy="314.0" r="1.85"/>
</g>
<line x1="264.3" y1="427.0" x2="436.0" y2="279.1" stroke="#222" stroke-width="1.1"/>
<rect x="255.50" y="271.50" width="189.00" height="163.00" fill="none" stroke="#707070" stroke-width="1.0"/>
<line x1="253.00" y1="427.00" x2="255.60" y2="427.00" stroke="#707070" stroke-width="0.8"/>
<text x="252.30" y="430.20" font-size="8.8" text-anchor="end" font-weight="normal" fill="#2b2b2b" transform="translate(252.30 0) scale(0.92 1) translate(-252.30 0)" style="stroke-width:0.06px">0.0</text>
<line x1="253.00" y1="397.42" x2="255.60" y2="397.42" stroke="#707070" stroke-width="0.8"/>
<text x="252.30" y="400.62" font-size="8.8" text-anchor="end" font-weight="normal" fill="#2b2b2b" transform="translate(252.30 0) scale(0.92 1) translate(-252.30 0)" style="stroke-width:0.06px">0.2</text>
<line x1="253.00" y1="367.84" x2="255.60" y2="367.84" stroke="#707070" stroke-width="0.8"/>
<text x="252.30" y="371.04" font-size="8.8" text-anchor="end" font-weight="normal" fill="#2b2b2b" transform="translate(252.30 0) scale(0.92 1) translate(-252.30 0)" style="stroke-width:0.06px">0.4</text>
<line x1="253.00" y1="338.26" x2="255.60" y2="338.26" stroke="#707070" stroke-width="0.8"/>
<text x="252.30" y="341.46" font-size="8.8" text-anchor="end" font-weight="normal" fill="#2b2b2b" transform="translate(252.30 0) scale(0.92 1) translate(-252.30 0)" style="stroke-width:0.06px">0.6</text>
<line x1="253.00" y1="308.68" x2="255.60" y2="308.68" stroke="#707070" stroke-width="0.8"/>
<text x="252.30" y="311.88" font-size="8.8" text-anchor="end" font-weight="normal" fill="#2b2b2b" transform="translate(252.30 0) scale(0.92 1) translate(-252.30 0)" style="stroke-width:0.06px">0.8</text>
<line x1="253.00" y1="279.10" x2="255.60" y2="279.10" stroke="#707070" stroke-width="0.8"/>
<text x="252.30" y="282.30" font-size="8.8" text-anchor="end" font-weight="normal" fill="#2b2b2b" transform="translate(252.30 0) scale(0.92 1) translate(-252.30 0)" style="stroke-width:0.06px">1.0</text>
<line x1="264.30" y1="434.00" x2="264.30" y2="436.60" stroke="#707070" stroke-width="0.8"/>
<text x="264.30" y="444.20" font-size="8.6" text-anchor="middle" font-weight="normal" fill="#2b2b2b" style="stroke-width:0.06px">0.0</text>
<line x1="298.64" y1="434.00" x2="298.64" y2="436.60" stroke="#707070" stroke-width="0.8"/>
<text x="298.64" y="444.20" font-size="8.6" text-anchor="middle" font-weight="normal" fill="#2b2b2b" style="stroke-width:0.06px">0.2</text>
<line x1="332.98" y1="434.00" x2="332.98" y2="436.60" stroke="#707070" stroke-width="0.8"/>
<text x="332.98" y="444.20" font-size="8.6" text-anchor="middle" font-weight="normal" fill="#2b2b2b" style="stroke-width:0.06px">0.4</text>
<line x1="367.32" y1="434.00" x2="367.32" y2="436.60" stroke="#707070" stroke-width="0.8"/>
<text x="367.32" y="444.20" font-size="8.6" text-anchor="middle" font-weight="normal" fill="#2b2b2b" style="stroke-width:0.06px">0.6</text>
<line x1="401.66" y1="434.00" x2="401.66" y2="436.60" stroke="#707070" stroke-width="0.8"/>
<text x="401.66" y="444.20" font-size="8.6" text-anchor="middle" font-weight="normal" fill="#2b2b2b" style="stroke-width:0.06px">0.8</text>
<line x1="436.00" y1="434.00" x2="436.00" y2="436.60" stroke="#707070" stroke-width="0.8"/>
<text x="436.00" y="444.20" font-size="8.6" text-anchor="middle" font-weight="normal" fill="#2b2b2b" style="stroke-width:0.06px">1.0</text>
<text x="350.30" y="456.60" font-size="12.5" text-anchor="middle" font-weight="normal" fill="#111">w/o LLMs</text>
<text x="236.60" y="353.20" font-size="12.5" text-anchor="middle" font-weight="normal" fill="#111" transform="rotate(-90 236.60 353.20)">w LLMs</text>
<path d="M502.50,288.80 C502.70,289.50 503.33,291.58 503.70,293.00 C504.07,294.42 504.33,295.63 504.70,297.30 C505.07,298.97 505.58,301.02 505.90,303.00 C506.22,304.98 506.57,307.20 506.60,309.20 C506.63,311.20 506.32,313.20 506.10,315.00 C505.88,316.80 505.57,318.17 505.30,320.00 C505.03,321.83 504.72,324.10 504.50,326.00 C504.28,327.90 504.15,329.07 504.00,331.40 C503.85,333.73 503.68,336.07 503.60,340.00 C503.52,343.93 503.50,350.67 503.50,355.00 C503.50,359.33 503.57,363.17 503.60,366.00 C503.63,368.83 503.58,370.02 503.70,372.00 C503.82,373.98 504.03,375.93 504.30,377.90 C504.57,379.87 504.92,382.03 505.30,383.80 C505.68,385.57 506.03,386.55 506.60,388.50 C507.17,390.45 508.25,393.35 508.70,395.50 C509.15,397.65 509.23,400.02 509.30,401.40 C509.37,402.78 509.28,402.82 509.10,403.80 C508.92,404.78 508.65,405.73 508.20,407.30 C507.75,408.87 507.03,411.25 506.40,413.20 C505.77,415.15 505.05,417.23 504.40,419.00 C503.75,420.77 502.82,423.00 502.50,423.80 L502.50,423.80 C502.18,423.00 501.25,420.77 500.60,419.00 C499.95,417.23 499.23,415.15 498.60,413.20 C497.97,411.25 497.25,408.87 496.80,407.30 C496.35,405.73 496.08,404.78 495.90,403.80 C495.72,402.82 495.63,402.78 495.70,401.40 C495.77,400.02 495.85,397.65 496.30,395.50 C496.75,393.35 497.83,390.45 498.40,388.50 C498.97,386.55 499.32,385.57 499.70,383.80 C500.08,382.03 500.43,379.87 500.70,377.90 C500.97,375.93 501.18,373.98 501.30,372.00 C501.42,370.02 501.37,368.83 501.40,366.00 C501.43,363.17 501.50,359.33 501.50,355.00 C501.50,350.67 501.48,343.93 501.40,340.00 C501.32,336.07 501.15,333.73 501.00,331.40 C500.85,329.07 500.72,327.90 500.50,326.00 C500.28,324.10 499.97,321.83 499.70,320.00 C499.43,318.17 499.12,316.80 498.90,315.00 C498.68,313.20 498.37,311.20 498.40,309.20 C498.43,307.20 498.78,304.98 499.10,303.00 C499.42,301.02 499.93,298.97 500.30,297.30 C500.67,295.63 500.93,294.42 501.30,293.00 C501.67,291.58 502.30,289.50 502.50,288.80Z" fill="#70b798" stroke="#3d3d3d" stroke-width="0.75"/>
<line x1="498.40" y1="309.20" x2="506.60" y2="309.20" stroke="#3d3d3d" stroke-width="0.85" stroke-dasharray="2,0.9"/>
<line x1="498.28" y1="388.90" x2="506.72" y2="388.90" stroke="#3d3d3d" stroke-width="0.85" stroke-dasharray="2,0.9"/>
<line x1="495.95" y1="404.00" x2="509.05" y2="404.00" stroke="#3d3d3d" stroke-width="0.85" stroke-dasharray="2,0.9"/>
<line x1="522.00" y1="301.90" x2="522.00" y2="395.00" stroke="#595959" stroke-width="1.1"/>
<path d="M522.00,394.00 C522.38,394.50 523.53,396.00 524.30,397.00 C525.07,398.00 525.88,398.83 526.60,400.00 C527.32,401.17 528.55,402.67 528.60,404.00 C528.65,405.33 527.57,406.83 526.90,408.00 C526.23,409.17 525.42,410.08 524.60,411.00 C523.78,411.92 522.43,413.08 522.00,413.50 L522.00,413.50 C521.57,413.08 520.22,411.92 519.40,411.00 C518.58,410.08 517.77,409.17 517.10,408.00 C516.43,406.83 515.35,405.33 515.40,404.00 C515.45,402.67 516.68,401.17 517.40,400.00 C518.12,398.83 518.93,398.00 519.70,397.00 C520.47,396.00 521.62,394.50 522.00,394.00Z" fill="#e08b6c" stroke="#3d3d3d" stroke-width="0.75"/>
<line x1="515.44" y1="404.10" x2="528.56" y2="404.10" stroke="#3d3d3d" stroke-width="0.85" stroke-dasharray="2,0.9"/>
<path d="M551.00,289.20 C551.23,289.83 551.95,291.43 552.40,293.00 C552.85,294.57 553.33,296.85 553.70,298.60 C554.07,300.35 554.38,301.82 554.60,303.50 C554.82,305.18 554.98,307.12 555.00,308.70 C555.02,310.28 554.87,311.57 554.70,313.00 C554.53,314.43 554.23,315.80 554.00,317.30 C553.77,318.80 553.50,320.28 553.30,322.00 C553.10,323.72 552.98,324.77 552.80,327.60 C552.62,330.43 552.32,334.43 552.20,339.00 C552.08,343.57 552.11,350.50 552.10,355.00 C552.09,359.50 552.13,363.17 552.15,366.00 C552.17,368.83 552.09,370.02 552.20,372.00 C552.31,373.98 552.45,375.93 552.80,377.90 C553.15,379.87 553.67,381.85 554.30,383.80 C554.93,385.75 555.93,387.65 556.60,389.60 C557.27,391.55 557.90,393.73 558.30,395.50 C558.70,397.27 558.90,398.95 559.00,400.20 C559.10,401.45 559.05,401.82 558.90,403.00 C558.75,404.18 558.63,405.60 558.10,407.30 C557.57,409.00 556.48,411.25 555.70,413.20 C554.92,415.15 554.18,417.23 553.40,419.00 C552.62,420.77 551.40,423.00 551.00,423.80 L551.00,423.80 C550.60,423.00 549.38,420.77 548.60,419.00 C547.82,417.23 547.08,415.15 546.30,413.20 C545.52,411.25 544.43,409.00 543.90,407.30 C543.37,405.60 543.25,404.18 543.10,403.00 C542.95,401.82 542.90,401.45 543.00,400.20 C543.10,398.95 543.30,397.27 543.70,395.50 C544.10,393.73 544.73,391.55 545.40,389.60 C546.07,387.65 547.07,385.75 547.70,383.80 C548.33,381.85 548.85,379.87 549.20,377.90 C549.55,375.93 549.69,373.98 549.80,372.00 C549.91,370.02 549.83,368.83 549.85,366.00 C549.87,363.17 549.91,359.50 549.90,355.00 C549.89,350.50 549.92,343.57 549.80,339.00 C549.68,334.43 549.38,330.43 549.20,327.60 C549.02,324.77 548.90,323.72 548.70,322.00 C548.50,320.28 548.23,318.80 548.00,317.30 C547.77,315.80 547.47,314.43 547.30,313.00 C547.13,311.57 546.98,310.28 547.00,308.70 C547.02,307.12 547.18,305.18 547.40,303.50 C547.62,301.82 547.93,300.35 548.30,298.60 C548.67,296.85 549.15,294.57 549.60,293.00 C550.05,291.43 550.77,289.83 551.00,289.20Z" fill="#70b798" stroke="#3d3d3d" stroke-width="0.75"/>
<line x1="548.00" y1="317.30" x2="554.00" y2="317.30" stroke="#3d3d3d" stroke-width="0.85" stroke-dasharray="2,0.9"/>
<line x1="543.08" y1="402.30" x2="558.92" y2="402.30" stroke="#3d3d3d" stroke-width="0.85" stroke-dasharray="2,0.9"/>
<line x1="543.40" y1="404.60" x2="558.60" y2="404.60" stroke="#3d3d3d" stroke-width="0.85" stroke-dasharray="2,0.9"/>
<line x1="570.40" y1="300.50" x2="570.40" y2="393.90" stroke="#595959" stroke-width="1.1"/>
<path d="M570.40,392.90 C570.77,393.42 571.83,394.82 572.60,396.00 C573.37,397.18 574.27,398.62 575.00,400.00 C575.73,401.38 576.97,402.97 577.00,404.30 C577.03,405.63 575.88,406.88 575.20,408.00 C574.52,409.12 573.70,410.17 572.90,411.00 C572.10,411.83 570.82,412.67 570.40,413.00 L570.40,413.00 C569.98,412.67 568.70,411.83 567.90,411.00 C567.10,410.17 566.28,409.12 565.60,408.00 C564.92,406.88 563.77,405.63 563.80,404.30 C563.83,402.97 565.07,401.38 565.80,400.00 C566.53,398.62 567.43,397.18 568.20,396.00 C568.97,394.82 570.03,393.42 570.40,392.90Z" fill="#e08b6c" stroke="#3d3d3d" stroke-width="0.75"/>
<line x1="563.89" y1="404.10" x2="576.91" y2="404.10" stroke="#3d3d3d" stroke-width="0.85" stroke-dasharray="2,0.9"/>
<path d="M599.60,288.80 C599.80,289.50 600.40,291.37 600.80,293.00 C601.20,294.63 601.62,296.77 602.00,298.60 C602.38,300.43 602.83,302.22 603.10,304.00 C603.37,305.78 603.57,307.78 603.60,309.30 C603.63,310.82 603.45,311.65 603.30,313.10 C603.15,314.55 602.93,316.22 602.70,318.00 C602.47,319.78 602.18,321.97 601.90,323.80 C601.62,325.63 601.23,327.32 601.00,329.00 C600.77,330.68 600.60,330.40 600.50,333.90 C600.40,337.40 600.37,344.98 600.40,350.00 C600.43,355.02 600.63,360.33 600.70,364.00 C600.77,367.67 600.67,369.68 600.80,372.00 C600.93,374.32 601.12,375.93 601.50,377.90 C601.88,379.87 602.50,381.85 603.10,383.80 C603.70,385.75 604.45,387.65 605.10,389.60 C605.75,391.55 606.55,393.53 607.00,395.50 C607.45,397.47 607.70,399.98 607.80,401.40 C607.90,402.82 607.77,403.02 607.60,404.00 C607.43,404.98 607.28,405.77 606.80,407.30 C606.32,408.83 605.50,411.25 604.70,413.20 C603.90,415.15 602.85,417.23 602.00,419.00 C601.15,420.77 600.00,423.00 599.60,423.80 L599.60,423.80 C599.20,423.00 598.05,420.77 597.20,419.00 C596.35,417.23 595.30,415.15 594.50,413.20 C593.70,411.25 592.88,408.83 592.40,407.30 C591.92,405.77 591.77,404.98 591.60,404.00 C591.43,403.02 591.30,402.82 591.40,401.40 C591.50,399.98 591.75,397.47 592.20,395.50 C592.65,393.53 593.45,391.55 594.10,389.60 C594.75,387.65 595.50,385.75 596.10,383.80 C596.70,381.85 597.32,379.87 597.70,377.90 C598.08,375.93 598.27,374.32 598.40,372.00 C598.53,369.68 598.43,367.67 598.50,364.00 C598.57,360.33 598.77,355.02 598.80,350.00 C598.83,344.98 598.80,337.40 598.70,333.90 C598.60,330.40 598.43,330.68 598.20,329.00 C597.97,327.32 597.58,325.63 597.30,323.80 C597.02,321.97 596.73,319.78 596.50,318.00 C596.27,316.22 596.05,314.55 595.90,313.10 C595.75,311.65 595.57,310.82 595.60,309.30 C595.63,307.78 595.83,305.78 596.10,304.00 C596.37,302.22 596.82,300.43 597.20,298.60 C597.58,296.77 598.00,294.63 598.40,293.00 C598.80,291.37 599.40,289.50 599.60,288.80Z" fill="#70b798" stroke="#3d3d3d" stroke-width="0.75"/>
<line x1="595.90" y1="313.10" x2="603.30" y2="313.10" stroke="#3d3d3d" stroke-width="0.85" stroke-dasharray="2,0.9"/>
<line x1="591.42" y1="401.60" x2="607.78" y2="401.60" stroke="#3d3d3d" stroke-width="0.85" stroke-dasharray="2,0.9"/>
<line x1="591.75" y1="404.60" x2="607.45" y2="404.60" stroke="#3d3d3d" stroke-width="0.85" stroke-dasharray="2,0.9"/>
<line x1="618.90" y1="303.00" x2="618.90" y2="397.90" stroke="#595959" stroke-width="1.1"/>
<path d="M618.90,396.90 C619.17,397.25 619.73,398.23 620.50,399.00 C621.27,399.77 622.15,400.62 623.50,401.50 C624.85,402.38 628.27,403.38 628.60,404.30 C628.93,405.22 626.55,406.22 625.50,407.00 C624.45,407.78 623.40,408.43 622.30,409.00 C621.20,409.57 619.47,410.17 618.90,410.40 L618.90,410.40 C618.33,410.17 616.60,409.57 615.50,409.00 C614.40,408.43 613.35,407.78 612.30,407.00 C611.25,406.22 608.87,405.22 609.20,404.30 C609.53,403.38 612.95,402.38 614.30,401.50 C615.65,400.62 616.53,399.77 617.30,399.00 C618.07,398.23 618.63,397.25 618.90,396.90Z" fill="#e08b6c" stroke="#3d3d3d" stroke-width="0.75"/>
<line x1="609.56" y1="404.10" x2="628.24" y2="404.10" stroke="#3d3d3d" stroke-width="0.85" stroke-dasharray="2,0.9"/>
<path d="M648.00,290.40 C648.10,290.50 648.33,289.63 648.60,291.00 C648.87,292.37 649.28,295.65 649.60,298.60 C649.92,301.55 650.33,305.33 650.50,308.70 C650.67,312.07 650.63,315.50 650.60,318.80 C650.57,322.10 650.42,325.57 650.30,328.50 C650.18,331.43 650.12,333.48 649.90,336.40 C649.68,339.32 649.17,341.07 649.00,346.00 C648.83,350.93 648.92,361.67 648.90,366.00 C648.88,370.33 648.83,370.02 648.90,372.00 C648.97,373.98 649.05,375.93 649.30,377.90 C649.55,379.87 649.73,381.85 650.40,383.80 C651.07,385.75 652.43,387.65 653.30,389.60 C654.17,391.55 654.95,393.73 655.60,395.50 C656.25,397.27 656.87,398.82 657.20,400.20 C657.53,401.58 657.67,402.62 657.60,403.80 C657.53,404.98 657.42,405.73 656.80,407.30 C656.18,408.87 654.88,411.25 653.90,413.20 C652.92,415.15 651.88,417.33 650.90,419.00 C649.92,420.67 648.48,422.50 648.00,423.20 L648.00,423.20 C647.52,422.50 646.08,420.67 645.10,419.00 C644.12,417.33 643.08,415.15 642.10,413.20 C641.12,411.25 639.82,408.87 639.20,407.30 C638.58,405.73 638.47,404.98 638.40,403.80 C638.33,402.62 638.47,401.58 638.80,400.20 C639.13,398.82 639.75,397.27 640.40,395.50 C641.05,393.73 641.83,391.55 642.70,389.60 C643.57,387.65 644.93,385.75 645.60,383.80 C646.27,381.85 646.45,379.87 646.70,377.90 C646.95,375.93 647.03,373.98 647.10,372.00 C647.17,370.02 647.12,370.33 647.10,366.00 C647.08,361.67 647.17,350.93 647.00,346.00 C646.83,341.07 646.32,339.32 646.10,336.40 C645.88,333.48 645.82,331.43 645.70,328.50 C645.58,325.57 645.43,322.10 645.40,318.80 C645.37,315.50 645.33,312.07 645.50,308.70 C645.67,305.33 646.08,301.55 646.40,298.60 C646.72,295.65 647.13,292.37 647.40,291.00 C647.67,289.63 647.90,290.50 648.00,290.40Z" fill="#70b798" stroke="#3d3d3d" stroke-width="0.75"/>
<line x1="645.70" y1="328.50" x2="650.30" y2="328.50" stroke="#3d3d3d" stroke-width="0.85" stroke-dasharray="2,0.9"/>
<line x1="638.51" y1="404.30" x2="657.49" y2="404.30" stroke="#3d3d3d" stroke-width="0.85" stroke-dasharray="2,0.9"/>
<line x1="667.40" y1="302.10" x2="667.40" y2="397.20" stroke="#595959" stroke-width="1.1"/>
<path d="M667.40,396.20 C667.77,396.58 668.80,397.70 669.60,398.50 C670.40,399.30 671.15,400.03 672.20,401.00 C673.25,401.97 675.73,403.22 675.90,404.30 C676.07,405.38 674.18,406.55 673.20,407.50 C672.22,408.45 670.97,409.35 670.00,410.00 C669.03,410.65 667.83,411.17 667.40,411.40 L667.40,411.40 C666.97,411.17 665.77,410.65 664.80,410.00 C663.83,409.35 662.58,408.45 661.60,407.50 C660.62,406.55 658.73,405.38 658.90,404.30 C659.07,403.22 661.55,401.97 662.60,401.00 C663.65,400.03 664.40,399.30 665.20,398.50 C666.00,397.70 667.03,396.58 667.40,396.20Z" fill="#e08b6c" stroke="#3d3d3d" stroke-width="0.75"/>
<line x1="659.12" y1="404.10" x2="675.68" y2="404.10" stroke="#3d3d3d" stroke-width="0.85" stroke-dasharray="2,0.9"/>
<rect x="488.50" y="270.50" width="194.00" height="163.00" fill="none" stroke="#707070" stroke-width="1.0"/>
<line x1="485.70" y1="289.52" x2="488.30" y2="289.52" stroke="#707070" stroke-width="0.8"/>
<text x="484.50" y="292.52" font-size="8.6" text-anchor="end" font-weight="normal" fill="#2b2b2b" style="stroke-width:0.06px">1.2</text>
<line x1="485.70" y1="308.65" x2="488.30" y2="308.65" stroke="#707070" stroke-width="0.8"/>
<text x="484.50" y="311.65" font-size="8.6" text-anchor="end" font-weight="normal" fill="#2b2b2b" style="stroke-width:0.06px">1.0</text>
<line x1="485.70" y1="327.78" x2="488.30" y2="327.78" stroke="#707070" stroke-width="0.8"/>
<text x="484.50" y="330.78" font-size="8.6" text-anchor="end" font-weight="normal" fill="#2b2b2b" style="stroke-width:0.06px">0.8</text>
<line x1="485.70" y1="346.91" x2="488.30" y2="346.91" stroke="#707070" stroke-width="0.8"/>
<text x="484.50" y="349.91" font-size="8.6" text-anchor="end" font-weight="normal" fill="#2b2b2b" style="stroke-width:0.06px">0.6</text>
<line x1="485.70" y1="366.04" x2="488.30" y2="366.04" stroke="#707070" stroke-width="0.8"/>
<text x="484.50" y="369.04" font-size="8.6" text-anchor="end" font-weight="normal" fill="#2b2b2b" style="stroke-width:0.06px">0.4</text>
<line x1="485.70" y1="385.17" x2="488.30" y2="385.17" stroke="#707070" stroke-width="0.8"/>
<text x="484.50" y="388.17" font-size="8.6" text-anchor="end" font-weight="normal" fill="#2b2b2b" style="stroke-width:0.06px">0.2</text>
<line x1="485.70" y1="404.30" x2="488.30" y2="404.30" stroke="#707070" stroke-width="0.8"/>
<text x="484.50" y="407.30" font-size="8.6" text-anchor="end" font-weight="normal" fill="#2b2b2b" style="stroke-width:0.06px">0.0</text>
<line x1="512.35" y1="433.50" x2="512.35" y2="436.10" stroke="#707070" stroke-width="0.8"/>
<text x="511.65" y="443.00" font-size="8.9" text-anchor="middle" font-weight="normal" fill="#2b2b2b" style="stroke-width:0.06px">w</text>
<text x="513.55" y="452.40" font-size="8.9" text-anchor="middle" font-weight="normal" fill="#2b2b2b" style="stroke-width:0.06px">LLMs</text>
<line x1="560.65" y1="433.50" x2="560.65" y2="436.10" stroke="#707070" stroke-width="0.8"/>
<text x="559.95" y="443.00" font-size="8.9" text-anchor="middle" font-weight="normal" fill="#2b2b2b" style="stroke-width:0.06px">w</text>
<text x="561.05" y="452.40" font-size="8.9" text-anchor="middle" font-weight="normal" fill="#2b2b2b" style="stroke-width:0.06px">protein</text>
<text x="561.85" y="461.80" font-size="8.9" text-anchor="middle" font-weight="normal" fill="#2b2b2b" style="stroke-width:0.06px">LLMs</text>
<line x1="609.35" y1="433.50" x2="609.35" y2="436.10" stroke="#707070" stroke-width="0.8"/>
<text x="608.65" y="443.00" font-size="8.9" text-anchor="middle" font-weight="normal" fill="#2b2b2b" style="stroke-width:0.06px">w</text>
<text x="609.75" y="452.40" font-size="8.9" text-anchor="middle" font-weight="normal" fill="#2b2b2b" style="stroke-width:0.06px">RNA</text>
<text x="610.55" y="461.80" font-size="8.9" text-anchor="middle" font-weight="normal" fill="#2b2b2b" style="stroke-width:0.06px">LLMs</text>
<line x1="657.65" y1="433.50" x2="657.65" y2="436.10" stroke="#707070" stroke-width="0.8"/>
<text x="656.95" y="443.00" font-size="8.9" text-anchor="middle" font-weight="normal" fill="#2b2b2b" style="stroke-width:0.06px">w/o</text>
<text x="658.85" y="452.40" font-size="8.9" text-anchor="middle" font-weight="normal" fill="#2b2b2b" style="stroke-width:0.06px">LLMs</text>
<text x="585.30" y="474.80" font-size="13.4" text-anchor="middle" font-weight="normal" fill="#111">Methods</text>
<text x="467.20" y="351.20" font-size="12.9" text-anchor="middle" font-weight="normal" fill="#111" transform="rotate(-90 467.20 351.20)">Prediction probability</text>
<rect x="527.1" y="274.1" width="152" height="11.3" rx="1.5" fill="#fff" fill-opacity="0.8" stroke="#d8d8d8" stroke-width="0.7"/>
<rect x="529.3" y="276.3" width="14.4" height="5.1" fill="#70b798" stroke="#3d3d3d" stroke-width="0.6"/>
<text x="549.00" y="281.50" font-size="6.5" text-anchor="start" font-weight="normal" fill="#2b2b2b" style="stroke-width:0.06px">Positive sample</text>
<rect x="608.0" y="276.3" width="13.7" height="5.1" fill="#e08b6c" stroke="#3d3d3d" stroke-width="0.6"/>
<text x="626.70" y="281.50" font-size="6.5" text-anchor="start" font-weight="normal" fill="#2b2b2b" style="stroke-width:0.06px">Negative sample</text>
</svg></body></html>
